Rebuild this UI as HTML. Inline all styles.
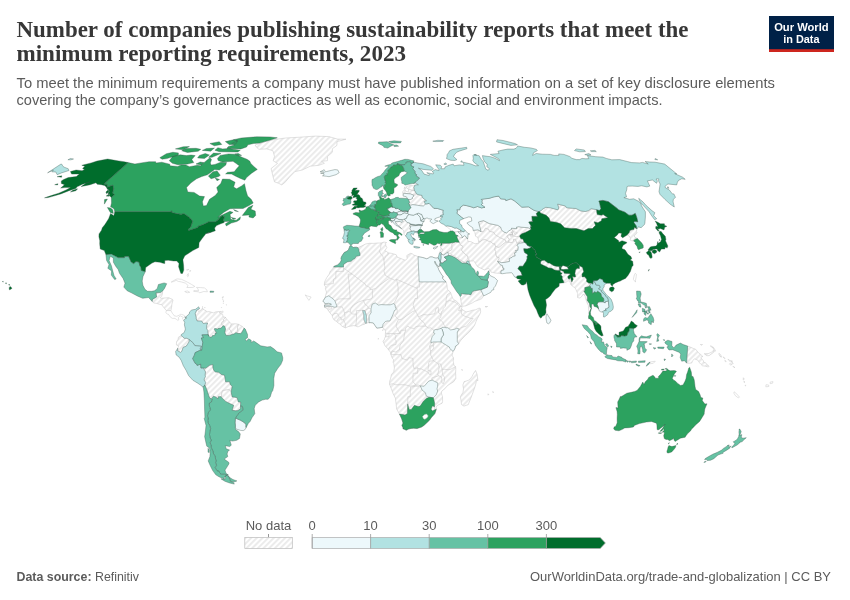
<!DOCTYPE html>
<html lang="en"><head><meta charset="utf-8"><title>Number of companies publishing sustainability reports that meet the minimum reporting requirements, 2023</title>
<style>
html,body{margin:0;padding:0;background:#fff}
body{width:850px;height:600px;overflow:hidden;font-family:"Liberation Sans",sans-serif}
svg{display:block}
.t{font-family:"Liberation Serif",serif;font-weight:700;font-size:23px;fill:#373737}
.s{font-family:"Liberation Sans",sans-serif;font-size:14.6px;fill:#5b5b5b}
.f{font-family:"Liberation Sans",sans-serif;font-size:13px;fill:#5b5b5b}
.l{font-family:"Liberation Sans",sans-serif;font-size:13px;fill:#5b5b5b}
.lg{font-family:"Liberation Sans",sans-serif;font-weight:700;font-size:11.2px;fill:#fff}
</style></head><body>
<svg width="850" height="600" viewBox="0 0 850 600">
<defs>
<pattern id="hatch" patternUnits="userSpaceOnUse" width="4" height="4" patternTransform="rotate(45)">
<rect width="4" height="4" fill="#fff"/><line x1="2" y1="-1" x2="2" y2="5" stroke="#d6d6d6" stroke-width="0.95"/>
</pattern>
</defs>
<rect width="850" height="600" fill="#fff"/>
<text class="t" x="16.5" y="36.5" textLength="672" lengthAdjust="spacingAndGlyphs">Number of companies publishing sustainability reports that meet the</text>
<text class="t" x="16.5" y="60.5" textLength="389.5" lengthAdjust="spacingAndGlyphs">minimum reporting requirements, 2023</text>
<text class="s" x="16.5" y="87.5" textLength="758.5" lengthAdjust="spacingAndGlyphs">To meet the minimum requirements a company must have published information on a set of key disclosure elements</text>
<text class="s" x="16.5" y="105.2" textLength="646" lengthAdjust="spacingAndGlyphs">covering the company’s governance practices as well as economic, social and environment impacts.</text>
<g>
<rect x="769" y="16" width="65" height="36" fill="#002147"/>
<rect x="769" y="49.2" width="65" height="2.8" fill="#ce261e"/>
<text class="lg" x="801.4" y="30.6" text-anchor="middle" textLength="54.5" lengthAdjust="spacingAndGlyphs">Our World</text>
<text class="lg" x="801.4" y="42.6" text-anchor="middle" textLength="36.4" lengthAdjust="spacingAndGlyphs">in Data</text>
</g>
<g id="map">
<g fill="url(#hatch)" stroke="#c4c4c4" stroke-width="0.5" stroke-linejoin="round">
<path d="M255.1,145.0L265.4,141.6L274.4,139.5L285.5,138.0L299.8,137.2L315.4,136.1L328.8,136.6L337.7,139.1L346.0,139.2L337.0,141.6L336.9,145.4L332.4,148.7L332.3,152.3L327.5,156.5L327.4,160.7L321.5,161.3L324.4,163.3L318.9,165.3L310.3,166.2L302.3,170.0L294.9,171.6L289.7,176.9L284.6,182.8L281.7,184.9L278.6,183.3L274.5,181.9L273.0,176.5L272.0,172.3L271.1,168.5L277.5,163.5L273.1,160.7L274.5,156.5L273.0,150.8L266.8,148.9L258.9,149.3L256.3,147.0Z"/>
<path d="M162.6,291.0L162.5,293.6L161.7,296.2L160.1,297.8L161.7,298.3L163.3,298.1L166.7,297.8L169.0,297.8L172.5,299.4L173.0,300.1L171.9,304.1L171.6,307.2L170.9,310.6L168.6,310.6L166.3,310.5L164.6,308.5L162.8,306.2L162.4,305.5L162.0,304.8L158.6,304.1L156.8,303.4L153.9,303.0L152.2,301.5L152.4,299.4L156.6,297.0L156.0,292.8L160.3,292.6L162.6,291.0Z"/>
<path d="M199.5,308.5L197.9,310.6L198.6,311.6L200.0,310.6L201.9,309.5L202.5,307.5L203.1,309.3L206.2,310.8L206.8,311.9L209.1,311.6L213.6,312.9L215.5,311.9L220.8,311.4L219.1,312.7L222.7,314.5L223.1,316.9L224.9,317.0L225.4,317.6L223.2,319.7L224.1,321.0L222.3,321.8L221.5,323.9L223.0,325.7L221.2,328.1L218.1,328.6L217.7,329.1L214.7,328.5L214.2,329.1L216.7,333.3L215.3,333.0L214.8,335.4L212.5,335.6L211.8,337.0L209.9,337.3L208.7,336.1L207.9,333.0L207.8,330.4L206.6,328.9L206.7,325.5L207.6,323.1L203.1,323.4L201.6,321.0L197.2,321.0L196.2,318.7L196.2,317.4L195.2,313.7L196.6,310.3Z"/>
<path d="M224.9,317.0L228.9,321.6L231.4,323.9L230.9,326.2L229.2,328.9L230.8,330.7L232.6,334.3L229.1,335.4L226.3,335.6L224.8,332.8L225.5,328.9L224.6,326.2L223.0,325.7L221.5,323.9L222.3,321.8L224.1,321.0L223.2,319.7L225.4,317.6Z"/>
<path d="M231.4,323.9L235.8,323.8L238.5,324.3L237.5,327.6L237.9,331.5L237.0,333.3L236.1,332.5L234.0,334.1L232.6,334.3L230.8,330.7L229.2,328.9L230.9,326.2Z"/>
<path d="M238.5,324.3L242.4,326.5L244.0,328.1L243.8,328.7L241.8,332.5L240.7,333.6L237.0,333.3L237.9,331.5L237.5,327.6Z"/>
<path d="M177.8,348.2L178.7,345.8L176.4,345.0L176.5,341.9L178.1,339.3L178.4,337.2L181.2,335.5L183.2,337.2L184.3,338.3L186.9,338.3L189.3,339.6L189.0,341.9L186.3,346.1L183.1,347.4L181.8,351.3L180.7,352.4L177.6,350.8Z"/>
<path d="M204.8,385.0L205.7,382.6L205.1,381.6L204.1,380.0L204.4,378.5L205.4,376.6L205.1,375.1L205.5,371.9L203.3,367.9L205.5,368.3L209.9,365.1L212.9,364.6L212.9,367.5L213.9,370.6L215.4,371.9L218.6,372.3L221.5,374.5L224.5,375.3L225.1,378.5L225.6,381.8L229.7,381.8L230.2,384.5L232.2,386.3L231.7,388.9L231.1,391.9L230.9,391.0L228.8,389.7L222.7,390.5L221.8,392.8L221.5,397.4L221.1,396.7L218.4,396.7L217.9,398.8L215.7,397.0L213.4,396.2L211.4,398.8L209.8,398.3L208.8,395.7L207.8,392.8L206.5,388.9Z"/>
<path d="M221.5,397.4L221.8,392.8L222.7,390.5L228.8,389.7L230.9,391.0L231.1,391.9L232.2,397.0L234.9,397.2L237.2,397.8L238.3,401.9L240.7,402.1L240.5,406.1L240.6,408.7L237.9,410.6L235.7,410.8L232.1,410.3L233.7,405.3L230.3,403.8L225.6,401.4Z"/>
<path d="M401.6,228.7L399.7,226.9L396.4,224.1L395.4,222.5L395.4,221.5L397.7,221.4L400.0,221.6L402.1,222.3L402.8,221.5L401.6,219.7L404.4,219.2L407.1,222.5L409.4,222.8L409.9,224.1L409.5,225.9L410.8,226.8L409.8,229.0L411.2,230.4L411.2,231.5L409.3,232.1L407.2,232.7L406.6,234.7L405.4,235.7L404.0,234.2L403.7,231.3L403.5,230.2Z"/>
<path d="M403.0,194.2L402.5,192.0L403.6,190.5L405.3,190.1L406.7,191.7L408.4,191.8L408.5,189.8L410.2,189.5L412.7,190.6L414.3,190.6L415.0,191.0L416.5,194.0L415.6,194.9L413.7,195.2L410.4,193.9L408.5,193.7L404.6,193.4Z"/>
<path d="M408.5,189.8L408.2,188.8L406.6,188.1L406.4,186.6L408.5,185.9L410.9,185.6L414.6,186.0L413.8,187.3L414.2,188.8L414.3,190.6L412.7,190.6L410.2,189.5ZM403.8,188.8L405.5,188.1L405.8,188.8L404.4,189.5ZM404.1,187.3L405.4,187.1L405.1,187.8Z"/>
<path d="M416.5,194.0L419.0,194.9L422.0,195.4L422.2,197.3L424.5,199.3L426.6,200.8L424.1,201.3L425.4,204.1L423.4,206.0L420.8,205.8L417.8,205.3L412.7,204.6L409.5,205.6L409.4,204.1L408.4,203.6L409.7,202.6L408.4,199.4L410.2,199.6L412.4,198.6L412.4,197.3L413.7,196.3L413.7,195.2L415.6,194.9Z"/>
<path d="M349.9,245.9L351.3,245.6L353.2,247.6L354.3,247.3L356.4,247.2L358.0,247.7L361.4,246.1L363.0,245.3L365.6,244.0L369.4,243.3L373.8,243.4L377.7,243.0L379.5,243.0L381.3,242.9L384.0,242.0L386.6,242.6L385.0,243.4L385.7,244.3L385.9,245.9L386.9,247.4L386.2,248.7L384.8,250.8L386.8,251.6L388.1,252.8L391.7,253.4L396.2,254.7L397.4,257.3L399.4,257.9L402.5,259.2L405.3,260.3L407.1,258.4L406.8,255.5L410.3,253.4L412.4,253.7L413.8,255.3L415.5,255.5L418.1,256.7L422.7,257.5L426.7,258.8L428.7,257.9L429.7,257.1L431.0,256.8L432.8,257.1L434.0,257.7L435.8,258.1L437.3,258.0L438.2,257.5L440.3,262.2L439.7,263.7L439.2,266.6L439.1,266.9L437.5,265.6L436.1,263.6L434.9,261.1L434.5,262.0L435.2,263.6L436.4,265.3L438.3,268.2L438.6,269.5L439.5,271.2L441.1,273.9L443.3,276.9L442.6,276.9L442.7,278.7L446.1,281.9L447.0,285.0L447.2,288.1L447.5,289.4L450.5,292.3L452.8,298.6L454.6,300.1L456.9,301.5L459.8,304.8L460.6,305.4L461.6,306.2L462.0,308.1L460.6,309.2L461.7,309.0L461.9,309.4L462.5,309.7L466.0,312.0L469.4,311.2L472.8,310.2L475.6,309.8L479.0,308.1L480.3,308.4L480.7,312.0L479.7,314.5L477.4,318.5L476.0,321.6L474.6,325.3L472.0,328.9L467.3,333.9L465.9,334.9L460.9,340.2L458.6,343.6L457.1,345.3L455.4,346.3L455.2,347.7L454.2,349.9L453.1,351.4L452.8,352.6L452.1,355.0L452.3,356.1L453.2,357.0L453.6,359.1L453.1,361.0L453.5,362.7L453.9,365.4L455.0,366.2L455.6,366.6L455.8,369.3L455.6,373.2L455.8,377.3L455.8,378.6L453.7,381.7L449.2,384.5L446.9,386.2L445.2,388.4L441.8,391.1L441.3,393.1L442.1,395.4L442.5,396.7L442.6,401.6L442.1,403.2L438.4,404.9L435.8,407.0L436.5,407.9L436.3,409.4L434.8,413.7L434.1,414.5L431.6,417.2L429.4,420.3L426.8,422.8L423.9,425.4L421.6,427.0L418.8,427.9L417.0,428.6L413.8,428.2L411.1,428.4L408.6,429.1L406.3,430.2L404.8,429.6L403.9,429.0L403.0,429.0L403.0,427.8L401.9,425.4L403.0,423.1L401.7,418.9L400.2,415.6L399.4,414.0L396.6,408.9L396.2,404.6L395.5,399.2L395.5,398.4L393.1,393.6L391.4,388.9L389.5,384.3L389.8,380.5L390.5,379.0L391.4,374.5L393.5,372.2L393.8,371.5L394.4,368.0L393.8,363.6L393.1,362.3L393.6,359.7L392.3,358.2L391.2,355.2L390.9,354.7L390.9,354.3L390.4,352.4L390.1,351.8L388.4,349.6L387.3,348.2L384.9,345.6L384.0,343.5L382.9,341.0L384.2,340.1L384.6,338.3L385.4,336.7L385.3,334.5L385.4,333.2L385.6,331.6L384.7,329.1L384.0,328.9L382.6,327.6L382.4,327.4L381.9,327.3L380.1,327.7L376.8,328.1L375.2,325.7L373.2,322.9L370.6,322.6L369.0,322.7L368.3,322.7L366.6,323.1L365.6,323.4L364.4,324.3L362.3,324.8L359.9,326.0L358.8,326.5L358.0,326.9L355.7,326.0L353.6,325.6L348.8,326.4L347.5,326.9L345.4,327.9L345.1,327.8L342.0,326.2L339.7,323.9L338.0,322.9L336.4,321.3L334.1,320.0L332.4,317.1L332.3,315.7L331.3,314.5L329.3,311.9L328.4,310.7L327.1,308.4L325.5,308.0L324.6,307.1L324.5,306.5L324.5,305.2L324.8,304.2L325.0,303.8L324.5,302.8L322.8,300.9L323.8,300.1L325.2,297.5L325.2,297.3L326.5,292.1L325.4,288.7L325.9,287.1L324.2,285.0L324.3,284.5L324.7,281.6L326.9,277.4L329.1,274.3L330.4,271.0L332.9,268.6L333.5,267.1L334.1,266.3L337.6,264.9L340.2,262.6L341.5,259.9L340.9,259.3L341.3,257.1L342.5,255.0L344.2,252.5L346.2,251.6L347.9,250.4L348.4,249.8L349.4,247.4Z"/>
<path d="M475.6,370.5L477.1,374.3L477.6,378.2L477.9,380.8L476.4,379.8L476.2,382.4L475.0,386.7L473.3,391.5L472.1,394.8L470.6,398.8L468.2,404.7L463.9,406.1L461.5,404.6L461.0,400.2L460.4,397.2L460.7,396.1L463.0,392.3L463.5,388.9L462.9,385.0L464.1,381.6L466.1,381.1L468.4,380.3L470.6,378.5L472.3,376.1L473.1,374.3L474.5,371.9Z"/>
<path d="M440.5,245.5L440.3,246.4L441.1,248.9L442.2,249.0L442.6,250.0L441.3,252.0L440.8,252.5L441.4,253.7L441.0,253.9L443.6,255.0L447.7,252.2L452.1,249.5L452.0,244.4L451.8,244.0L454.0,242.5L449.1,243.3L444.7,243.3L441.8,243.3L442.1,244.7L441.2,245.5Z"/>
<path d="M448.9,255.4L451.6,255.9L455.6,258.1L457.8,259.7L462.0,263.1L466.1,263.3L447.7,252.2L452.1,249.5L452.0,244.4L451.8,244.0L454.0,242.5L455.3,242.0L459.3,242.3L460.8,245.3L462.4,245.7L463.1,247.4L461.8,249.1L461.9,250.6L463.7,252.9L468.0,256.3L468.0,258.4L470.3,261.1L469.1,261.1L467.1,261.0L466.1,263.3Z"/>
<path d="M483.7,295.8L481.9,298.6L479.2,299.8L474.9,301.3L472.5,302.8L465.8,305.9L462.2,306.3L461.6,304.6L460.9,300.7L460.2,296.5L461.2,295.7L461.3,293.6L463.3,293.9L468.6,294.3L470.9,294.7L472.3,291.8L474.3,290.8L480.8,289.7ZM485.0,306.5L487.6,306.5L486.0,307.2Z"/>
<path d="M470.3,261.1L472.6,261.0L473.6,260.6L475.7,263.7L477.5,266.6L480.1,267.9L484.6,270.0L488.3,268.4L490.1,269.6L491.1,272.2L492.3,272.3L495.0,273.0L498.7,273.3L500.9,273.5L501.0,270.9L504.0,269.7L504.0,268.3L502.8,268.0L502.5,265.6L500.4,264.8L497.6,261.4L499.2,258.8L499.0,257.3L496.8,257.1L495.5,252.9L496.0,251.7L494.8,249.8L495.5,246.3L494.8,243.7L493.0,243.7L490.3,241.4L488.2,241.0L485.3,239.5L481.8,239.9L480.6,241.6L478.7,241.8L479.0,243.0L475.0,243.8L471.0,241.7L468.1,241.4L467.5,239.0L465.8,236.5L464.5,235.7L462.1,237.8L459.9,237.5L458.2,235.8L456.7,236.5L457.6,239.1L459.3,242.3L460.8,245.3L462.4,245.7L463.1,247.4L461.8,249.1L461.9,250.6L463.7,252.9L468.0,256.3L468.0,258.4Z"/>
<path d="M495.5,246.3L494.8,249.8L496.0,251.7L495.5,252.9L496.8,257.1L499.0,257.3L499.2,258.8L497.6,261.4L501.4,262.6L504.9,262.4L509.5,261.4L509.2,258.6L512.1,257.3L512.8,256.3L515.2,256.0L514.5,252.9L516.5,252.1L515.5,250.6L517.9,250.3L518.3,246.9L516.9,245.2L519.2,243.3L523.5,242.7L524.0,242.1L520.4,241.6L517.0,243.4L515.5,239.4L513.3,239.1L513.6,241.2L512.0,242.5L508.7,242.2L505.9,241.8L502.2,244.6L498.9,247.3Z"/>
<path d="M478.7,241.8L477.9,237.5L475.5,236.2L475.4,234.9L474.8,232.4L473.2,230.4L478.0,229.8L481.0,231.6L483.3,231.6L485.5,228.0L488.8,229.3L489.5,231.3L493.6,232.1L495.4,234.9L500.3,237.7L505.6,240.1L505.9,241.8L502.2,244.6L498.9,247.3L495.5,246.3L494.8,243.7L493.0,243.7L490.3,241.4L488.2,241.0L485.3,239.5L481.8,239.9L480.6,241.6Z"/>
<path d="M481.0,231.6L478.5,222.0L483.5,220.6L489.3,223.6L497.9,225.4L500.7,227.2L501.5,229.8L503.7,232.0L506.7,232.9L508.3,231.3L511.7,229.1L515.0,234.4L516.1,233.9L517.5,232.9L513.9,231.6L511.6,232.4L512.3,232.6L512.6,234.9L509.9,234.4L506.9,236.0L509.4,239.6L508.9,240.1L508.7,242.2L505.9,241.8L505.6,240.1L500.3,237.7L495.4,234.9L493.6,232.1L489.5,231.3L488.8,229.3L485.5,228.0L483.3,231.6Z"/>
<path d="M511.7,229.1L511.5,228.2L516.9,228.7L516.4,227.2L518.8,226.7L521.0,227.2L528.1,227.7L531.2,229.3L528.2,231.1L525.3,232.4L521.8,233.8L519.8,235.5L519.7,236.4L516.3,236.6L513.1,236.0L510.4,236.2L509.9,234.4L512.6,234.9L512.3,232.6L511.6,232.4L513.9,231.6L517.5,232.9L516.1,233.9L515.0,234.4Z"/>
<path d="M508.7,242.2L508.9,240.1L509.4,239.6L506.9,236.0L509.9,234.4L512.6,234.9L512.3,232.6L511.6,232.4L512.3,232.6L512.6,234.9L509.9,234.4L510.4,236.2L513.1,236.0L516.3,236.6L519.7,236.4L520.9,238.8L522.9,239.1L524.0,242.1L520.4,241.6L517.0,243.4L515.5,239.4L513.3,239.1L513.6,241.2L512.0,242.5Z"/>
<path d="M542.1,260.5L540.6,261.8L540.7,264.1L543.4,265.3L547.0,267.0L548.5,267.9L551.7,268.3L554.5,269.9L557.5,270.4L559.8,270.4L559.1,266.5L556.2,266.3L553.9,265.7L551.9,264.6L549.4,263.0L548.0,263.1L544.4,260.2Z"/>
<path d="M563.9,282.8L566.6,282.1L567.5,280.8L569.8,281.1L570.7,284.0L571.6,285.3L571.2,284.2L571.8,281.9L570.4,277.4L569.1,279.4L568.0,278.0L567.8,276.4L570.3,274.3L570.1,273.8L564.2,273.3L563.7,271.4L560.3,270.0L560.1,272.0L562.2,273.5L560.4,275.0L562.2,276.1L562.2,278.7L563.7,281.5Z"/>
<path d="M539.5,211.4L541.3,210.6L542.2,209.4L545.8,207.3L550.7,207.9L557.9,209.9L558.8,208.0L557.6,204.1L565.3,206.0L566.6,207.8L572.3,208.3L575.9,208.5L580.9,211.0L585.6,211.5L588.7,210.6L591.1,208.7L596.6,209.7L596.8,212.4L597.3,214.6L601.4,215.3L603.1,214.5L607.9,217.7L601.8,218.7L601.4,220.8L597.9,222.7L594.1,221.8L595.5,225.3L592.4,228.6L588.2,228.6L584.0,230.8L576.2,228.5L571.3,228.4L564.6,227.8L560.7,223.8L556.1,222.2L550.4,221.5L549.0,218.0L546.2,215.2L540.5,212.9Z"/>
<path d="M627.1,235.1L629.2,236.0L630.5,238.3L630.0,239.9L631.9,240.9L633.5,240.8L635.0,239.4L637.4,238.6L634.7,237.1L634.2,235.5L635.0,235.2L637.1,232.7L636.3,231.3L637.0,229.0L636.6,228.7L634.4,227.3L633.8,229.5L631.9,229.8L629.9,230.4L629.2,232.6Z"/>
<path d="M589.0,313.3L588.5,308.5L588.4,305.4L587.0,302.8L585.7,298.8L585.1,296.2L583.2,294.1L582.1,296.0L580.1,298.1L577.5,297.5L577.7,293.6L576.0,289.7L574.9,287.6L573.2,286.7L571.6,285.3L571.2,284.2L571.8,281.9L573.2,279.3L572.5,276.5L574.4,277.0L575.7,276.7L574.9,273.5L575.5,269.9L577.2,268.2L579.4,268.6L579.3,265.6L582.6,267.5L583.7,271.7L582.0,274.0L582.2,276.9L584.7,276.7L586.7,279.3L586.6,281.6L588.9,283.2L591.2,282.9L589.4,286.2L588.1,286.8L584.8,287.6L584.8,291.0L583.8,290.9L587.4,296.8L587.5,299.2L586.9,299.9L589.5,303.5L589.9,306.4L591.1,308.5L589.4,312.0Z"/>
<path d="M687.7,346.1L688.4,346.3L693.7,348.6L695.7,349.3L698.5,352.9L700.9,354.7L702.9,356.5L700.9,356.9L701.5,358.9L703.2,360.3L703.9,362.5L705.7,362.8L706.9,364.6L709.1,366.1L708.4,367.0L705.8,366.2L702.5,365.8L700.7,364.1L699.3,362.5L697.8,360.1L695.0,359.1L694.3,359.0L692.6,360.7L692.3,361.1L692.0,362.7L691.7,362.9L689.1,363.3L686.6,363.1ZM704.2,353.7L708.1,353.7L711.7,352.2L713.4,350.3L713.8,352.1L711.5,353.9L709.1,355.6L706.8,355.7ZM710.3,346.1L713.0,347.9L714.9,351.6L715.4,350.5L713.5,347.4L710.8,345.8ZM718.9,353.4L720.7,354.7L721.5,357.2L720.1,356.5L719.1,354.7ZM700.4,344.5L702.5,344.5L701.6,345.3Z"/>
</g>
<g fill="#fff" stroke="#c9c9c9" stroke-width="0.5" stroke-linejoin="round">
<path d="M170.9,310.6L172.3,313.2L173.2,314.2L174.2,315.8L176.7,316.3L179.1,315.3L180.3,314.4L181.4,314.4L183.7,315.0L185.0,316.6L185.4,318.7L183.7,320.5L182.6,318.4L183.3,317.4L180.2,315.8L178.3,317.6L178.9,319.7L177.9,320.4L176.6,319.5L175.0,318.4L172.3,318.3L170.5,317.2L168.3,314.2L167.4,314.2L165.9,312.7L166.3,310.5L168.6,310.6Z"/>
<path d="M221.9,297.5L223.4,296.5L223.1,297.8ZM223.1,300.7L224.0,300.9L223.4,301.7ZM223.2,302.8L223.6,303.0L223.3,303.5ZM222.5,298.8L223.1,299.1L222.8,299.6ZM226.4,304.6L226.8,305.0L226.4,305.2ZM221.3,307.5L221.7,307.6L221.5,308.0ZM204.8,307.2L205.2,307.7L204.5,307.7ZM202.5,306.4L202.8,306.8L202.5,306.9Z"/>
<path d="M171.2,282.1L175.9,279.3L177.3,278.9L181.5,279.3L184.7,280.8L187.9,282.4L191.7,284.5L194.8,286.4L192.9,287.4L186.8,287.5L188.1,285.5L185.5,283.2L181.2,281.9L178.3,281.4L176.2,280.3L173.5,281.6Z"/>
<path d="M193.7,291.4L198.3,291.8L199.8,292.8L203.8,291.5L207.4,291.8L206.7,289.7L204.4,287.9L200.4,287.6L196.5,287.4L198.0,288.9L198.5,290.8L193.8,290.6Z"/>
<path d="M184.7,291.5L187.5,291.0L189.7,292.3L187.1,292.8Z"/>
<path d="M187.0,275.1L188.3,273.5L188.4,276.1L187.7,276.7ZM186.5,269.9L188.9,269.3L187.6,270.1ZM190.1,270.1L190.6,270.7L190.0,271.7Z"/>
<path d="M220.7,312.9L221.5,311.4L223.1,311.1L222.8,312.9Z"/>
<path d="M492.6,391.5L493.7,392.0L493.1,392.8ZM487.8,393.9L488.9,394.4L488.2,395.2ZM461.8,369.1L462.4,370.4L462.0,370.6ZM307.5,296.0L311.1,297.0L308.9,300.4L305.2,294.9ZM377.8,339.0L378.5,338.3L378.3,339.3ZM382.6,330.7L383.4,329.6L382.8,329.5Z"/>
<path d="M446.2,226.2L448.6,228.0L450.4,229.8L450.4,231.1L452.6,230.9L454.6,232.1L457.8,231.7L459.9,231.8L461.3,232.2L460.4,230.0L457.5,228.5L456.8,228.0L454.8,228.2L451.5,226.7L447.6,225.9Z"/>
<path d="M457.8,231.7L454.6,232.1L455.5,234.7L458.2,235.8L459.9,237.5L462.1,237.8L462.0,236.2L460.5,234.4L459.3,232.9Z"/>
<path d="M439.6,252.9L440.3,250.8L441.1,248.9L442.2,249.0L442.6,250.0L441.3,252.0L440.8,252.5Z"/>
<path d="M561.0,268.0L561.1,267.3L563.0,265.4L565.3,266.2L566.9,266.7L567.8,267.5L568.4,269.2L566.0,269.3L563.4,269.6L561.1,269.3Z"/>
<path d="M635.3,273.3L636.4,274.3L636.2,276.7L635.5,280.3L635.5,282.1L633.3,279.3L634.3,275.1Z"/>
<path d="M650.0,362.0L655.3,361.2L653.3,363.3L649.6,363.8Z"/>
<path d="M734.2,391.8L736.9,394.1L739.5,397.2L738.2,397.8L735.4,395.7L733.8,393.1ZM766.0,384.7L768.7,385.0L768.8,386.5L765.8,386.8ZM770.1,382.1L773.0,381.6L772.6,383.2L770.2,383.7ZM729.4,360.2L732.3,361.0L730.4,362.0L727.9,359.1ZM729.8,363.6L732.0,364.4L730.8,365.1L729.3,364.1ZM731.8,361.2L733.2,363.8L732.5,364.1L731.7,362.3ZM732.9,366.2L735.0,367.5L733.9,367.5ZM723.0,356.8L725.2,358.4L724.5,358.6ZM724.8,360.2L726.3,361.5L725.3,361.7ZM743.3,377.7L744.3,379.2L743.2,380.0ZM743.9,381.1L745.0,382.1L744.2,382.6ZM745.2,385.2L746.1,385.5L745.3,386.0ZM-32.3,374.5L-30.9,374.8L-31.5,375.3ZM-30.2,375.3L-28.9,375.8L-29.8,376.1Z"/>
</g>
<g fill="#edf8fb" stroke="#38524a" stroke-opacity="0.7" stroke-width="0.5" stroke-linejoin="round">
<path d="M246.2,427.4L245.2,429.4L243.3,430.6L240.6,430.4L236.8,429.2L235.3,427.8L235.4,425.4L235.1,422.8L235.4,418.1L239.2,419.7L240.1,420.0L242.6,421.5L245.0,423.1L246.0,424.7L245.9,427.3Z"/>
<path d="M320.1,171.8L324.2,169.7L325.3,171.8L326.4,171.6L331.3,170.4L334.9,169.6L337.7,169.9L339.2,172.7L336.0,174.7L329.0,176.7L326.7,176.3L322.5,175.8L324.1,174.9L323.5,173.4L320.6,173.3L324.3,172.8L323.6,171.8Z"/>
<path d="M392.2,207.2L394.2,207.4L395.3,207.7L395.1,208.3L396.2,209.0L396.7,208.3L398.1,208.5L398.8,209.3L400.0,209.5L400.6,210.6L399.2,211.6L397.5,212.2L397.0,212.9L395.1,212.5L393.0,211.8L392.5,212.9L390.7,212.4L387.7,210.1L387.8,209.5L387.0,208.5L388.7,208.2L391.2,206.8Z"/>
<path d="M400.6,210.6L401.9,210.3L402.6,211.3L403.8,210.8L406.2,210.7L408.2,211.6L399.2,211.6L397.5,212.2L397.0,212.9L397.6,214.4L398.9,215.0L401.0,214.9L402.5,213.9L404.2,213.0L406.9,213.5L407.6,213.4L408.2,211.6Z"/>
<path d="M397.6,214.4L398.9,215.0L401.0,214.9L402.5,213.9L404.2,213.0L406.9,213.5L407.6,213.4L409.2,214.5L407.5,215.7L406.4,218.5L404.4,219.2L401.6,219.7L399.0,219.7L396.8,218.3L395.7,217.3L396.4,215.9L397.5,215.2Z"/>
<path d="M390.8,218.2L392.7,218.5L394.8,217.7L395.7,217.3L396.8,218.3L394.8,219.0L394.3,220.8L392.7,220.8L390.8,220.9L391.2,220.5L390.8,220.0L390.3,219.0Z"/>
<path d="M390.8,220.9L391.6,222.5L392.3,221.3L393.9,223.3L395.9,225.4L397.2,225.9L399.6,227.4L401.6,228.7L399.7,226.9L396.4,224.1L395.4,222.5L395.4,221.5L397.7,221.4L400.0,221.6L402.1,222.3L402.8,221.5L401.6,219.7L399.0,219.7L396.8,218.3L394.8,219.0L394.3,220.8L392.7,220.8Z"/>
<path d="M409.2,214.5L413.4,215.2L416.6,213.8L418.0,214.9L420.2,217.2L420.9,220.9L424.1,221.5L422.6,222.8L422.3,225.3L418.9,224.4L415.7,225.5L409.9,224.1L409.4,222.8L407.1,222.5L404.4,219.2L406.4,218.5L407.5,215.7Z"/>
<path d="M416.6,213.8L418.4,213.2L421.8,214.5L423.4,218.5L424.5,218.5L422.4,219.5L420.9,220.9L420.2,217.2L418.0,214.9Z"/>
<path d="M409.9,224.1L415.7,225.5L418.9,224.4L422.3,225.3L409.5,225.9L410.8,226.8L409.8,229.0L411.2,230.4L411.2,231.5L413.4,231.1L415.5,231.5L417.9,231.5L418.3,230.5L419.5,229.5L421.6,229.8L420.4,228.5L421.0,226.7L422.3,225.3Z"/>
<path d="M403.2,196.1L403.0,194.2L404.6,193.4L408.5,193.7L410.4,193.9L413.7,195.2L413.7,196.3L412.4,197.3L412.4,198.6L410.2,199.6L408.4,199.4L406.9,198.4L406.7,197.1L406.3,196.7L403.7,196.2Z"/>
<path d="M425.4,204.1L429.2,203.4L430.8,205.1L433.8,208.3L437.7,208.5L440.7,209.5L443.4,210.3L443.0,212.1L443.4,214.8L440.7,215.5L440.7,216.7L437.6,217.6L434.9,218.7L434.8,220.2L438.2,221.0L436.0,222.0L433.5,223.6L432.0,223.1L429.8,221.1L431.8,219.2L428.4,218.7L427.2,218.0L425.7,218.2L423.8,221.0L424.1,221.5L420.9,220.9L422.4,219.5L424.5,218.5L423.4,218.5L421.8,214.5L418.4,213.2L416.6,213.8L413.4,215.2L409.2,214.5L407.6,213.4L408.2,211.6L408.3,210.3L410.7,208.0L410.7,207.2L409.5,205.6L412.7,204.6L417.8,205.3L420.8,205.8L423.4,206.0Z"/>
<path d="M418.1,256.7L422.7,257.5L426.7,258.8L428.7,257.9L429.7,257.1L431.0,256.8L432.8,257.1L434.0,257.7L435.8,258.1L437.3,258.0L438.2,257.5L440.3,262.2L439.7,263.7L439.2,266.6L439.1,266.9L437.5,265.6L436.1,263.6L434.9,261.1L434.5,262.0L435.2,263.6L436.4,265.3L438.3,268.2L438.6,269.5L439.5,271.2L441.1,273.9L443.3,276.9L442.6,276.9L442.7,278.7L446.1,281.9L419.2,281.9L418.3,263.0Z"/>
<path d="M324.6,307.1L324.5,306.5L324.5,305.2L328.5,305.0L331.2,304.6L331.2,303.9L328.5,303.3L325.0,303.8L324.5,302.8L322.8,300.9L323.8,300.1L325.2,297.5L325.2,297.3L328.8,295.8L332.6,298.5L334.9,300.8L336.7,305.5L336.8,306.9L334.5,307.2L331.4,306.3L328.0,306.3Z"/>
<path d="M382.4,327.4L381.9,327.3L380.1,327.7L376.8,328.1L375.2,325.7L373.2,322.9L370.6,322.6L369.0,322.7L369.1,318.9L369.0,315.8L371.1,312.7L371.0,308.8L372.2,304.1L375.4,303.0L378.4,305.1L381.1,304.6L385.7,304.8L390.2,304.8L393.9,303.5L395.1,305.1L395.3,306.9L396.3,309.3L394.4,310.6L393.1,314.2L392.1,316.5L389.9,321.0L387.2,321.0L385.3,321.6L383.1,324.2Z"/>
<path d="M458.6,343.6L457.1,345.3L455.4,346.3L455.2,347.7L454.2,349.9L453.1,351.4L449.7,348.4L449.4,347.1L441.0,341.9L441.0,339.0L441.2,338.5L442.4,336.4L443.5,334.9L443.2,332.8L442.2,329.6L441.1,328.3L442.0,327.3L445.6,327.3L445.7,327.7L447.8,327.7L450.6,329.9L454.6,329.3L456.8,328.2L459.3,329.0L457.3,332.0L457.3,341.5Z"/>
<path d="M441.1,328.3L442.2,329.6L443.2,332.8L443.5,334.9L442.4,336.4L441.2,338.5L441.0,339.0L441.0,341.9L433.0,342.0L431.0,343.0L431.0,340.6L431.7,338.0L432.4,336.2L434.9,333.7L433.7,332.9L433.9,330.2L436.1,329.4L437.0,329.9L438.8,329.1Z"/>
<path d="M420.2,385.8L421.5,386.0L424.2,386.2L428.7,381.1L432.2,380.1L434.1,381.1L437.8,382.9L437.6,386.3L437.0,388.9L437.7,391.0L436.2,394.9L433.4,397.8L429.0,397.2L426.0,395.7L425.5,392.8L422.2,390.2Z"/>
<path d="M460.4,230.0L462.6,231.6L463.9,231.8L465.0,230.2L467.6,233.1L469.7,234.0L467.9,234.4L467.9,236.8L467.5,239.0L465.8,236.5L464.5,235.7L462.1,237.8L462.0,236.2L460.5,234.4L459.3,232.9L457.8,231.7L459.9,231.8L461.3,232.2Z"/>
<path d="M433.0,248.2L434.3,247.4L437.8,246.3L436.7,247.9L434.6,249.0Z"/>
<path d="M441.0,253.9L443.6,255.0L447.7,252.2L448.9,255.4L444.3,257.1L446.7,259.7L445.8,261.0L444.2,261.4L442.9,263.1L440.3,262.7L440.3,262.2L440.9,258.6L441.0,257.1L440.8,254.7Z"/>
<path d="M489.3,274.2L490.3,275.7L494.6,277.7L497.6,280.6L495.4,286.1L493.6,288.0L493.9,289.7L492.1,290.0L490.7,292.4L488.3,293.6L485.9,294.9L483.7,295.8L480.8,289.7L487.4,287.1L488.4,281.9L487.2,280.0L488.7,276.7L488.2,276.1ZM488.3,271.3L489.0,270.5L489.0,272.5Z"/>
<path d="M463.6,218.6L462.0,217.7L458.8,214.9L456.8,213.4L457.4,211.3L456.8,209.7L459.8,209.8L460.0,207.8L463.2,205.1L466.5,205.6L471.0,206.8L473.8,207.8L477.5,206.5L481.4,207.9L484.9,207.3L481.2,204.6L482.7,203.3L481.8,202.1L482.1,200.3L481.2,199.4L484.9,198.8L489.0,198.4L494.1,196.8L498.8,196.1L500.6,198.8L505.4,199.3L505.8,200.6L511.0,198.8L514.8,201.1L521.9,207.2L528.4,206.8L534.0,210.3L538.6,211.6L536.3,213.4L537.4,216.4L531.9,216.4L532.3,220.8L533.3,221.5L528.8,222.0L531.5,226.7L530.4,226.7L531.2,229.3L528.1,227.7L521.0,227.2L518.8,226.7L516.4,227.2L516.9,228.7L511.5,228.2L511.7,229.1L508.3,231.3L506.7,232.9L503.7,232.0L501.5,229.8L500.7,227.2L497.9,225.4L489.3,223.6L483.5,220.6L478.5,222.0L481.0,231.6L478.0,229.8L473.2,230.4L472.7,227.7L469.4,225.5L466.9,223.1L468.8,222.0L471.8,221.0L471.4,217.7L471.0,217.2L468.7,216.9Z"/>
<path d="M500.9,273.5L502.5,273.7L506.5,273.1L511.6,272.7L512.1,273.0L513.2,274.6L514.6,276.9L516.2,277.4L517.4,275.9L522.3,275.6L521.1,272.2L519.4,269.9L517.9,268.8L519.5,266.2L522.9,266.3L524.6,263.6L526.4,261.0L527.3,258.1L526.9,256.8L528.1,255.0L526.5,253.7L524.7,252.6L524.0,250.6L523.8,248.7L527.2,249.0L530.2,247.9L531.5,246.6L529.3,246.3L527.3,245.3L526.3,243.4L524.0,242.1L523.5,242.7L519.2,243.3L516.9,245.2L518.3,246.9L517.9,250.3L515.5,250.6L516.5,252.1L514.5,252.9L515.2,256.0L512.8,256.3L512.1,257.3L509.2,258.6L509.5,261.4L504.9,262.4L501.4,262.6L497.6,261.4L500.4,264.8L502.5,265.6L502.8,268.0L504.0,268.3L504.0,269.7L501.0,270.9Z"/>
<path d="M546.9,313.7L551.0,320.2L549.6,323.1L548.3,323.8L546.9,322.9L546.5,321.3L546.0,317.9L546.2,315.8Z"/>
<path d="M598.6,308.9L599.2,310.8L600.2,311.6L602.4,312.1L603.8,310.7L605.4,310.6L606.3,310.6L605.3,309.0L606.7,308.8L609.1,307.2L608.6,304.1L608.4,300.9L606.1,301.6L605.0,301.8L605.1,302.9L603.1,301.8L600.4,301.8L598.1,302.1L597.3,303.8L596.8,303.9L597.9,306.3Z"/>
</g>
<g fill="#b2e2e2" stroke="#38524a" stroke-opacity="0.7" stroke-width="0.5" stroke-linejoin="round">
<path d="M185.0,316.6L186.3,318.4L186.4,316.3L189.2,314.0L189.6,311.9L191.3,310.3L192.7,309.8L195.5,309.3L198.7,306.8L199.5,308.5L196.6,310.3L195.2,313.7L196.2,317.4L196.2,318.7L197.2,321.0L201.6,321.0L203.1,323.4L207.6,323.1L206.7,325.5L206.6,328.9L207.8,330.4L207.9,333.0L208.7,336.1L208.1,334.7L201.9,334.9L203.5,337.6L201.3,338.0L202.8,342.2L201.7,350.3L199.9,349.2L201.3,346.3L194.8,345.6L192.9,342.7L189.3,339.6L186.9,338.3L184.3,338.3L183.2,337.2L181.2,335.5L181.2,334.6L184.2,332.5L185.4,329.1L184.4,324.9L184.7,322.3L183.7,320.5L185.4,318.7Z"/>
<path d="M203.2,387.2L200.4,385.0L197.3,382.9L192.9,380.3L188.6,375.6L186.2,370.6L183.3,365.7L181.2,360.4L179.0,357.0L176.2,355.0L175.6,351.6L177.8,348.2L177.6,350.8L180.7,352.4L181.8,351.3L183.1,347.4L186.3,346.1L189.0,341.9L189.3,339.6L192.9,342.7L194.8,345.6L201.3,346.3L199.9,349.2L201.7,350.3L199.7,350.5L195.2,352.6L194.4,355.2L192.7,358.6L195.2,363.3L196.8,364.1L197.1,365.4L200.7,364.1L200.9,368.0L203.3,367.9L205.5,371.9L205.1,375.1L205.4,376.6L204.4,378.5L204.1,380.0L205.1,381.6L205.7,382.6L204.8,385.0Z"/>
<path d="M344.1,230.0L344.4,232.6L343.6,236.0L342.5,238.1L343.1,239.1L344.0,239.1L343.9,240.4L343.4,242.7L345.8,242.7L346.9,242.2L346.7,241.4L347.8,239.6L347.2,239.1L347.9,237.5L346.8,235.8L347.9,235.7L348.2,232.4L349.7,230.8L348.9,229.9L345.8,230.3L345.6,229.5Z"/>
<path d="M417.9,233.0L415.7,232.6L414.4,232.6L413.7,234.2L413.4,235.1L412.5,234.3L411.3,233.6L410.8,234.9L411.8,236.8L412.6,237.8L414.3,239.6L414.5,241.0L413.2,240.1L412.1,240.4L413.3,241.7L412.9,244.2L411.4,244.3L409.6,243.3L408.1,240.7L409.3,239.4L408.0,239.4L407.0,237.8L405.8,236.0L405.4,235.7L406.6,234.7L407.2,232.7L409.3,232.1L411.2,231.5L413.4,231.1L415.5,231.5L417.9,231.5L418.3,230.5ZM413.9,246.4L415.3,246.4L418.6,247.0L419.9,247.3L419.5,247.9L416.5,248.1L413.8,247.3ZM412.8,237.8L414.6,238.6L415.6,240.1L413.1,238.6ZM422.9,244.6L423.7,244.3L423.4,245.6ZM418.3,237.0L419.6,237.3L419.0,237.7Z"/>
<path d=""/>
<path d="M365.6,323.4L366.6,323.1L366.5,315.8L364.9,310.6L362.5,310.3L363.7,314.5L363.9,319.7Z"/>
<path d="M414.0,162.2L417.8,163.0L423.1,163.8L430.7,166.4L433.5,168.7L432.0,170.3L423.1,169.4L418.4,168.2L421.6,170.3L424.1,174.1L429.2,175.5L429.8,174.6L426.8,172.7L430.4,173.4L433.2,173.9L433.8,172.9L432.1,171.6L435.2,169.6L439.0,170.5L438.8,169.1L437.6,167.8L435.7,164.8L440.2,165.2L441.8,166.7L440.9,168.7L444.6,168.7L445.0,167.0L448.9,165.3L453.2,164.1L454.1,165.8L459.3,164.9L463.9,165.3L463.4,162.2L470.9,164.0L475.3,165.8L478.5,165.6L474.5,162.9L472.8,160.7L473.3,158.6L472.9,155.6L473.8,154.6L479.2,155.8L481.1,159.2L483.3,161.7L484.8,166.2L485.8,169.1L488.2,170.3L489.4,168.7L486.8,166.7L487.1,164.4L484.6,161.7L483.1,158.6L482.4,155.6L487.0,156.3L490.5,156.7L495.0,158.2L499.5,160.7L498.9,159.0L494.4,156.5L490.3,154.4L499.1,153.5L497.9,151.2L502.8,150.0L507.8,149.1L513.9,149.1L516.0,148.3L517.9,146.0L524.5,147.3L530.6,147.9L536.3,149.3L537.4,150.6L533.6,152.7L532.6,155.4L536.1,153.5L542.3,154.2L550.5,154.4L554.1,155.4L558.9,155.4L558.7,153.9L563.9,154.4L569.8,156.5L571.9,158.3L576.3,159.6L579.6,159.6L582.0,158.4L585.8,158.8L588.8,158.6L587.4,155.6L595.8,156.7L602.8,157.1L606.3,158.4L611.8,159.8L619.7,159.6L627.3,161.5L631.6,162.6L639.5,162.9L642.6,162.4L648.2,164.0L645.1,161.5L649.8,162.0L655.1,162.2L659.8,163.1L664.7,164.1L676.8,173.9L674.7,173.6L682.7,177.2L685.2,179.3L681.7,178.8L678.5,180.4L677.4,182.3L676.7,184.9L668.0,184.0L666.7,184.7L665.2,186.5L665.3,187.6L669.4,190.0L672.4,193.9L673.9,193.9L675.5,197.4L673.3,199.3L673.1,201.8L674.3,207.0L670.3,204.3L664.8,199.3L660.0,194.4L659.0,191.7L659.7,186.9L660.1,184.0L658.6,181.1L658.7,178.8L656.0,179.0L657.4,180.9L656.6,183.3L652.4,180.0L647.4,180.9L649.8,186.1L646.9,186.9L641.6,185.8L638.0,186.4L632.2,186.1L628.1,186.2L627.1,186.6L626.7,190.0L625.5,193.3L626.6,196.8L623.9,197.6L629.6,199.3L633.7,198.8L638.5,201.3L641.1,203.8L641.4,205.6L642.9,208.0L645.4,211.8L645.4,216.9L644.9,223.1L644.4,224.6L641.1,227.7L638.5,226.9L638.3,226.9L637.0,229.0L636.6,228.7L636.2,225.9L633.8,222.5L634.7,221.3L637.7,221.8L636.9,218.0L635.3,213.4L632.0,215.2L628.9,215.2L624.9,212.2L618.3,209.8L617.5,208.7L608.4,201.7L602.9,200.4L598.9,201.1L599.6,202.8L600.2,205.6L601.0,208.8L599.3,210.6L596.6,209.7L591.1,208.7L588.7,210.6L585.6,211.5L580.9,211.0L575.9,208.5L572.3,208.3L566.6,207.8L565.3,206.0L557.6,204.1L558.8,208.0L557.9,209.9L550.7,207.9L545.8,207.3L542.2,209.4L541.3,210.6L539.5,211.4L538.6,211.6L534.0,210.3L528.4,206.8L521.9,207.2L514.8,201.1L511.0,198.8L505.8,200.6L505.4,199.3L500.6,198.8L498.8,196.1L494.1,196.8L489.0,198.4L484.9,198.8L481.2,199.4L482.1,200.3L481.8,202.1L482.7,203.3L481.2,204.6L484.9,207.3L481.4,207.9L477.5,206.5L473.8,207.8L471.0,206.8L466.5,205.6L463.2,205.1L460.0,207.8L459.8,209.8L456.8,209.7L457.4,211.3L456.8,213.4L458.8,214.9L462.0,217.7L463.6,218.6L461.4,219.7L459.6,220.5L459.6,223.6L461.6,225.1L462.1,227.2L465.0,230.2L463.9,231.8L462.6,231.6L460.4,230.0L457.5,228.5L456.8,228.0L454.8,228.2L451.5,226.7L447.6,225.9L446.2,226.2L445.5,225.9L443.8,224.4L442.0,223.7L439.9,222.3L438.9,221.1L440.4,220.2L441.0,219.5L440.6,218.5L442.9,216.7L440.7,216.7L440.7,215.5L443.4,214.8L443.0,212.1L443.4,210.3L440.7,209.5L437.7,208.5L433.8,208.3L430.8,205.1L429.2,203.4L425.4,204.1L424.1,201.3L426.6,200.8L424.5,199.3L422.2,197.3L422.0,195.4L419.0,194.9L416.5,194.0L415.0,191.0L414.3,190.6L414.2,188.8L413.8,187.3L414.6,186.0L414.5,185.3L416.2,184.8L418.4,184.8L415.3,183.0L413.7,183.4L416.1,181.6L418.9,178.8L419.3,177.9L416.0,175.9L416.6,174.6L414.9,173.4L415.0,171.4L412.7,168.7L413.8,166.9L411.0,165.8L411.0,164.2L411.3,163.9ZM60.9,164.1L61.8,164.2L63.0,166.4L64.5,167.3L68.2,168.7L69.0,170.5L61.5,172.9L57.2,174.7L55.8,172.0L51.8,171.8L53.5,170.0L47.6,172.8ZM654.9,159.6L655.2,158.5L657.7,159.8ZM70.4,158.5L73.5,159.0L70.9,159.8L67.9,159.8ZM446.5,158.6L447.0,156.5L447.0,154.8L448.8,152.3L449.5,150.8L453.0,149.3L459.9,148.3L466.6,147.3L467.0,148.7L459.0,151.2L456.6,152.3L454.7,154.4L453.5,156.5L456.9,159.6L454.9,160.5L450.7,160.3ZM496.5,141.9L497.0,139.7L503.1,140.5L515.0,143.5L517.5,144.8L510.9,145.4L504.6,143.9ZM574.5,150.6L576.1,148.9L584.3,150.0L585.4,151.6L579.5,151.8ZM584.8,154.6L588.9,153.5L591.0,155.0L587.3,155.2ZM590.3,150.8L595.0,150.4L596.3,151.6L591.6,151.6ZM432.8,141.2L437.8,140.3L443.7,140.6L442.9,141.4L435.9,141.6ZM638.7,198.3L642.9,201.8L646.3,205.6L651.9,210.6L654.9,212.7L653.7,215.7L656.7,218.7L654.6,219.7L651.6,215.7L649.1,211.8L642.9,205.1L641.0,203.1L639.5,200.6ZM443.8,164.0L445.8,162.9L446.7,164.2L444.9,164.7ZM460.6,161.7L461.9,160.7L462.6,162.4ZM667.4,188.1L667.9,186.6L668.9,188.3ZM474.1,155.0L476.0,154.4L476.8,155.4Z"/>
<path d="M438.2,257.5L439.3,253.7L439.6,252.9L440.8,252.5L441.4,253.7L441.0,253.9L440.8,254.7L441.0,257.1L440.9,258.6L440.3,262.2Z"/>
<path d="M466.1,263.3L467.1,261.0L469.1,261.1L469.0,262.6L469.5,262.8L470.4,264.8L468.8,264.8L468.1,263.6Z"/>
<path d="M591.2,282.9L592.8,284.1L593.1,280.8L595.2,282.5L595.9,284.9L599.4,285.4L600.4,287.4L598.6,288.7L601.6,290.5L601.5,291.7L605.2,294.9L605.8,296.4L607.7,297.7L608.4,299.9L608.4,300.9L606.1,301.6L605.0,301.8L605.1,302.9L603.1,301.8L603.9,300.3L603.5,298.3L601.4,296.2L600.9,293.6L597.6,291.3L596.2,292.7L594.7,291.8L592.7,293.6L592.3,292.3L592.2,288.4L590.6,288.4L590.5,286.7L589.4,286.2Z"/>
<path d="M606.6,283.2L604.1,285.0L604.2,286.6L602.9,288.7L602.9,290.2L604.8,292.6L606.5,294.9L609.4,297.3L611.3,299.6L612.6,303.0L613.3,306.4L613.2,308.2L612.6,309.8L610.5,311.4L608.5,312.3L607.8,314.5L604.7,316.9L603.5,316.9L603.4,313.7L604.0,313.2L602.4,312.1L603.8,310.7L605.4,310.6L606.3,310.6L605.3,309.0L606.7,308.8L609.1,307.2L608.6,304.1L608.4,300.9L608.4,299.9L607.7,297.7L605.8,296.4L605.2,294.9L601.5,291.7L601.6,290.5L598.6,288.7L600.4,287.4L599.4,285.4L595.9,284.9L595.2,282.5L593.1,280.8L597.0,280.6L599.8,278.5L602.7,279.5L603.6,281.9Z"/>
</g>
<g fill="#66c2a4" stroke="#38524a" stroke-opacity="0.7" stroke-width="0.5" stroke-linejoin="round">
<path d="M105.9,254.5L111.4,253.9L118.2,257.6L124.4,257.6L124.8,256.3L128.6,256.3L131.2,262.0L133.7,263.6L136.0,261.5L139.0,262.0L139.7,265.4L141.0,267.5L141.3,270.4L145.3,271.6L142.9,276.7L142.2,281.1L142.9,285.3L144.9,289.2L147.5,291.3L151.6,291.3L154.4,290.8L157.2,288.7L158.4,284.5L164.1,282.9L166.7,283.7L164.5,288.4L162.6,291.0L160.3,292.6L156.0,292.8L156.6,297.0L152.4,299.4L152.2,301.5L148.5,297.5L142.7,298.3L137.4,296.0L131.4,292.8L127.2,290.8L123.8,287.1L125.0,283.2L123.1,278.5L119.5,273.3L118.2,269.6L115.7,266.2L113.4,262.3L113.3,257.9L110.3,256.3L109.1,260.5L111.4,265.7L112.5,270.1L114.0,275.4L116.2,279.0L114.6,279.5L111.3,275.1L111.6,270.9L107.8,268.3L109.0,264.6L106.6,260.5Z"/>
<path d="M210.0,292.3L210.2,291.0L213.8,291.3L213.5,292.3Z"/>
<path d="M244.0,328.1L245.3,329.1L247.6,334.6L247.5,337.7L245.2,339.3L246.4,340.9L248.7,338.8L251.2,340.3L251.2,342.4L253.7,340.9L260.7,345.8L267.2,346.9L270.6,346.6L274.1,349.0L277.1,351.8L281.5,352.9L282.8,357.8L282.6,360.4L280.8,364.6L278.0,368.0L274.7,373.2L273.8,378.5L273.9,385.5L272.8,390.5L271.6,392.3L270.3,396.7L268.2,399.3L265.5,399.3L262.2,400.1L258.7,401.9L255.2,405.3L254.2,408.5L254.8,413.7L252.1,417.6L250.1,421.5L248.4,423.3L246.2,427.4L245.9,427.3L246.0,424.7L245.0,423.1L242.6,421.5L240.1,420.0L239.2,419.7L235.4,418.1L237.2,415.3L238.7,413.2L240.3,411.9L242.8,410.2L242.7,407.9L242.2,406.3L240.5,406.1L240.7,402.1L238.3,401.9L237.2,397.8L234.9,397.2L232.2,397.0L231.1,391.9L231.7,388.9L232.2,386.3L230.2,384.5L229.7,381.8L225.6,381.8L225.1,378.5L224.5,375.3L221.5,374.5L218.6,372.3L215.4,371.9L213.9,370.6L212.9,367.5L212.9,364.6L209.9,365.1L205.5,368.3L203.3,367.9L200.9,368.0L200.7,364.1L197.1,365.4L196.8,364.1L195.2,363.3L192.7,358.6L194.4,355.2L195.2,352.6L199.7,350.5L201.7,350.3L202.8,342.2L201.3,338.0L203.5,337.6L201.9,334.9L208.1,334.7L208.7,336.1L209.9,337.3L211.8,337.0L212.5,335.6L214.8,335.4L215.3,333.0L216.7,333.3L214.2,329.1L214.7,328.5L217.7,329.1L218.1,328.6L221.2,328.1L223.0,325.7L224.6,326.2L225.5,328.9L224.8,332.8L226.3,335.6L229.1,335.4L232.6,334.3L234.0,334.1L236.1,332.5L237.0,333.3L240.7,333.6L241.8,332.5L243.8,328.7Z"/>
<path d="M235.3,427.8L235.7,429.6L238.7,431.7L240.3,434.0L239.5,438.5L236.7,440.3L232.6,441.1L229.9,440.5L231.3,445.2L229.7,446.5L225.3,445.7L226.2,448.8L229.5,450.1L227.9,451.2L227.1,454.0L227.8,456.6L224.2,459.1L228.7,462.2L229.0,463.7L226.7,467.5L225.0,470.1L226.0,473.3L228.3,475.0L224.8,474.3L221.1,474.3L220.0,473.5L218.9,471.1L217.3,471.1L215.0,467.5L216.6,465.2L215.5,462.9L216.0,460.9L215.4,458.1L215.1,456.1L213.6,454.0L212.8,450.9L211.3,447.8L211.0,445.5L210.1,442.6L211.2,440.3L210.0,437.4L209.5,434.6L209.9,431.2L210.6,428.6L209.5,425.2L208.1,422.8L207.8,420.5L208.1,418.7L207.5,415.8L207.9,413.7L208.7,411.9L210.4,409.8L209.9,407.9L209.2,405.1L209.2,403.2L211.5,401.9L211.9,399.3L211.4,398.8L213.4,396.2L215.7,397.0L217.9,398.8L218.4,396.7L221.1,396.7L221.5,397.4L225.6,401.4L230.3,403.8L233.7,405.3L232.1,410.3L235.7,410.8L237.9,410.6L240.6,408.7L240.5,406.1L242.2,406.3L242.7,407.9L242.8,410.2L240.3,411.9L238.7,413.2L237.2,415.3L235.4,418.1L235.1,422.8L235.4,425.4ZM228.3,475.9L229.7,477.5L232.9,479.5L236.9,480.9L234.8,481.8L230.6,481.5Z"/>
<path d="M228.3,475.0L226.3,475.5L224.3,477.3L224.3,479.0L219.0,476.8L215.8,474.8L212.7,470.6L210.2,465.5L208.2,460.9L209.9,456.6L210.2,451.4L209.5,448.1L206.8,446.2L206.1,443.4L204.6,436.4L204.9,435.1L205.3,432.0L206.0,425.4L204.2,418.4L204.9,417.3L204.6,410.0L204.4,400.9L203.9,392.0L203.2,387.2L204.8,385.0L206.5,388.9L207.8,392.8L208.8,395.7L209.8,398.3L211.4,398.8L211.9,399.3L211.5,401.9L209.2,403.2L209.2,405.1L209.9,407.9L210.4,409.8L208.7,411.9L207.9,413.7L207.5,415.8L208.1,418.7L207.8,420.5L208.1,422.8L209.5,425.2L210.6,428.6L209.9,431.2L209.5,434.6L210.0,437.4L211.2,440.3L210.1,442.6L211.0,445.5L211.3,447.8L212.8,450.9L213.6,454.0L215.1,456.1L215.4,458.1L216.0,460.9L215.5,462.9L216.6,465.2L215.0,467.5L217.3,471.1L218.9,471.1L220.0,473.5L221.1,474.3L224.8,474.3ZM228.3,475.9L230.6,481.5L233.6,482.5L234.3,484.1L229.6,483.0L224.9,481.3L220.9,478.8L225.0,479.3L225.8,478.0L224.9,476.3L226.5,475.5ZM208.0,452.2L208.1,448.3L209.2,450.1L209.3,452.4Z"/>
<path d="M359.0,226.3L354.9,226.0L350.7,225.5L346.8,225.3L343.6,226.7L343.4,227.4L344.1,229.8L344.1,230.0L345.6,229.5L345.8,230.3L348.9,229.9L349.7,230.8L348.2,232.4L347.9,235.7L346.8,235.8L347.9,237.5L347.2,239.1L347.8,239.6L346.7,241.4L346.9,242.2L347.9,242.2L349.0,243.5L350.7,245.3L353.3,243.5L358.3,243.5L359.4,241.7L361.3,241.2L362.6,238.8L363.2,238.1L362.2,236.2L364.7,232.9L367.4,231.3L369.5,230.0L369.7,229.0L369.5,228.7L366.4,228.5L364.3,227.7L361.3,227.4ZM367.9,236.2L369.4,235.1L370.0,236.0L369.2,236.8Z"/>
<path d="M367.9,206.5L369.5,205.9L371.3,205.9L372.7,205.7L374.4,206.4L374.1,207.3L374.7,207.4L375.6,208.5L375.1,208.9L374.3,209.5L374.4,210.4L372.4,209.3L371.2,209.3L369.2,207.5Z"/>
<path d="M374.4,210.4L374.3,209.5L375.1,208.9L375.8,209.8L375.6,210.7Z"/>
<path d="M369.5,205.9L370.1,204.8L370.9,204.3L372.0,202.1L373.3,201.3L374.9,200.8L376.8,201.1L376.6,202.8L376.0,203.1L376.7,203.7L376.0,204.6L374.5,204.8L375.1,205.8L374.7,207.4L374.1,207.3L374.4,206.4L372.7,205.7L371.3,205.9Z"/>
<path d="M390.7,212.4L389.1,213.8L388.6,214.1L389.2,215.7L387.6,215.4L385.2,215.9L383.6,216.2L382.3,215.5L382.3,216.8L384.2,217.3L385.3,217.4L387.7,216.9L388.2,217.7L390.8,218.2L392.7,218.5L394.8,217.7L395.7,217.3L396.4,215.9L397.5,215.2L397.6,214.4L397.0,212.9L395.1,212.5L393.0,211.8L392.5,212.9Z"/>
<path d="M351.0,199.2L350.7,200.9L351.1,201.9L350.3,203.9L347.8,204.3L346.4,204.8L343.4,205.7L342.5,204.8L342.2,204.1L343.4,202.9L344.4,201.8L342.9,200.8L343.6,199.6L343.4,198.6L346.1,198.6L345.8,197.6L346.8,196.4L348.6,195.9L348.8,196.7L348.2,197.4L347.0,198.2L348.2,199.0L348.6,198.9L349.9,199.2Z"/>
<path d="M383.6,186.9L382.3,184.9L382.1,186.6L380.6,187.2L377.8,189.3L376.0,189.6L373.2,188.1L373.2,187.2L372.0,185.2L372.0,183.3L371.9,182.1L372.0,179.5L373.8,178.8L375.3,177.7L377.9,176.5L380.2,175.9L382.6,173.2L384.1,171.8L385.1,170.0L387.4,167.8L389.1,166.2L384.8,166.2L388.1,164.9L390.5,164.4L392.0,163.1L394.4,162.3L397.6,161.5L400.6,160.5L401.7,160.3L404.9,159.3L408.1,159.4L411.3,160.3L414.1,161.0L412.7,162.3L414.0,162.2L411.3,163.9L410.9,162.4L409.1,161.6L406.0,162.4L405.8,163.5L404.6,164.9L400.5,164.7L398.0,163.9L397.2,163.8L396.5,165.3L393.4,165.1L393.2,166.3L390.8,167.3L389.3,169.6L387.9,170.5L388.3,172.3L386.8,173.9L387.8,174.8L385.3,175.3L384.2,176.9L384.8,179.3L385.1,180.7L386.2,181.5L385.0,182.3L385.9,183.7L384.6,185.0L384.4,185.6L384.7,186.5L384.1,187.3ZM378.6,142.1L378.4,143.5L382.0,145.2L383.7,146.4L383.9,147.3L387.8,148.1L390.4,146.4L393.7,144.8L390.5,143.5L387.2,141.7L382.9,141.9ZM388.6,141.6L394.1,140.8L401.4,141.4L400.5,142.9L391.8,142.9ZM394.2,146.6L398.6,146.2L396.7,145.0L393.8,145.2Z"/>
<path d="M404.7,171.2L407.3,172.8L405.9,173.9L403.7,175.6L401.2,177.4L401.3,180.0L401.8,181.0L401.8,183.3L403.5,183.8L405.1,185.1L408.6,184.3L412.1,183.6L413.7,183.4L416.1,181.6L418.9,178.8L419.3,177.9L416.0,175.9L416.6,174.6L414.9,173.4L415.0,171.4L412.7,168.7L413.8,166.9L411.0,165.8L411.0,164.2L411.3,163.9L410.9,162.4L409.1,161.6L406.0,162.4L405.8,163.5L404.6,164.9L400.5,164.7L398.0,163.9L397.2,163.8L399.1,164.8L401.3,165.4L402.7,166.4L403.1,167.9L403.9,168.9L403.6,170.0Z"/>
<path d="M379.5,197.1L378.3,195.5L378.3,192.7L379.1,191.7L381.4,190.5L382.7,190.1L382.4,191.5L382.4,192.9L383.5,193.5L382.3,194.1L381.6,195.6L381.0,197.3ZM384.0,195.1L385.7,194.1L386.9,195.1L386.3,196.3L385.6,197.7L384.2,197.4L384.3,196.3ZM381.6,195.7L383.5,195.8L383.4,196.7L382.0,196.6Z"/>
<path d="M390.4,199.6L394.2,198.6L395.6,197.6L398.3,197.3L399.0,198.3L400.8,198.2L406.9,198.4L408.4,199.4L409.7,202.6L408.4,203.6L409.4,204.1L409.5,205.6L410.7,207.2L410.7,208.0L408.3,210.3L408.2,211.6L406.2,210.7L403.8,210.8L402.6,211.3L401.9,210.3L400.6,210.6L400.0,209.5L398.8,209.3L398.1,208.5L396.7,208.3L396.2,209.0L395.1,208.3L395.3,207.7L394.2,207.4L392.2,207.2L392.6,206.8L392.0,205.3L391.6,202.9L390.5,202.3L390.9,201.3Z"/>
<path d="M333.5,267.1L334.1,266.3L337.6,264.9L340.2,262.6L341.5,259.9L340.9,259.3L341.3,257.1L342.5,255.0L344.2,252.5L346.2,251.6L347.9,250.4L348.4,249.8L349.4,247.4L349.9,245.9L351.3,245.6L353.2,247.6L354.3,247.3L356.4,247.2L358.0,247.7L358.9,249.5L359.1,251.3L360.0,253.4L360.1,255.5L356.2,256.3L354.9,258.6L353.1,259.4L351.1,261.3L347.1,262.0L343.5,264.4L343.5,267.1Z"/>
<path d="M440.3,262.7L440.1,266.0L441.1,266.1L444.5,271.2L446.3,274.3L448.2,276.4L451.0,280.8L451.2,283.2L454.4,288.1L456.6,291.5L459.0,294.4L460.2,296.5L461.2,295.7L461.3,293.6L463.3,293.9L468.6,294.3L470.9,294.7L472.3,291.8L474.3,290.8L480.8,289.7L487.4,287.1L488.4,281.9L487.2,280.0L481.3,279.4L478.8,276.4L478.7,276.0L477.8,275.1L476.8,274.7L475.3,272.5L474.9,270.7L473.6,268.8L471.5,267.0L470.9,265.7L470.4,264.8L468.8,264.8L468.1,263.6L466.1,263.3L462.0,263.1L457.8,259.7L455.6,258.1L451.6,255.9L448.9,255.4L444.3,257.1L446.7,259.7L445.8,261.0L444.2,261.4L442.9,263.1Z"/>
<path d="M477.8,275.1L478.6,274.0L478.3,271.7L477.4,271.0L476.6,272.7L476.8,274.7Z"/>
<path d="M478.7,276.0L481.0,276.1L483.9,276.4L485.0,275.5L486.8,273.3L488.2,272.0L488.3,271.3L489.0,272.5L489.3,274.2L488.2,276.1L488.7,276.7L487.2,280.0L481.3,279.4L478.8,276.4Z"/>
<path d="M633.7,328.4L633.5,330.4L634.3,333.6L637.0,336.8L634.4,337.2L633.8,339.3L633.7,340.9L632.2,342.7L631.3,345.8L630.0,348.7L626.9,350.3L626.8,348.3L623.1,347.9L620.4,348.4L620.2,347.1L616.5,347.0L616.5,343.7L615.5,341.9L614.4,340.1L614.6,339.4L613.9,337.2L614.0,335.4L615.5,333.9L615.5,335.1L617.6,337.1L620.5,336.8L621.4,335.5L624.7,336.0L627.0,335.4L627.4,334.1L628.0,332.0L628.9,331.5L629.3,328.3L630.0,328.1ZM582.2,324.7L587.3,325.7L588.5,327.6L590.2,329.4L593.0,331.7L594.6,333.8L596.7,334.9L598.6,336.7L601.2,338.0L602.2,339.3L601.4,341.9L603.5,341.9L604.5,345.3L607.2,347.7L606.7,350.8L606.4,354.6L605.2,354.4L603.6,353.7L603.0,352.4L601.1,352.1L598.3,349.2L595.3,345.3L594.1,341.8L591.3,338.5L590.5,334.8L587.7,331.5L586.7,330.7L584.1,328.3ZM604.8,356.9L606.8,354.7L608.6,355.2L612.0,355.6L612.6,356.9L616.7,357.4L618.1,356.0L621.8,357.3L622.1,358.1L625.9,359.7L625.9,362.1L622.5,361.0L617.9,360.8L615.6,359.9L612.4,359.4L607.4,358.5ZM651.4,335.1L646.4,336.8L644.0,336.6L641.5,335.8L639.5,337.5L639.1,339.3L639.0,341.6L637.8,344.3L636.7,346.3L637.6,348.4L638.0,351.0L637.7,353.7L639.9,353.9L640.1,351.6L639.9,349.7L640.2,346.9L641.6,346.2L642.7,349.7L642.8,351.8L644.4,353.1L645.6,351.8L646.6,349.7L644.8,348.2L644.4,344.5L643.5,344.3L647.3,341.8L645.9,341.6L643.1,341.6L639.7,341.6L639.6,340.9L640.2,338.0L642.9,338.1L646.4,338.0L649.9,338.3ZM687.7,346.1L683.2,344.5L680.4,343.1L676.2,345.0L673.8,347.9L671.8,345.6L672.0,341.5L667.9,340.2L665.4,341.5L664.8,343.0L667.0,344.8L668.6,346.1L666.9,346.9L668.5,349.5L669.1,350.0L672.6,349.7L675.8,351.0L679.4,352.4L680.7,354.2L680.2,357.6L681.7,361.2L684.5,360.7L686.6,363.1ZM625.9,360.4L628.7,361.2L627.4,362.3ZM629.1,361.0L630.9,361.2L629.9,362.5ZM631.2,361.5L636.5,361.0L636.2,362.3L631.5,362.8ZM638.3,361.2L645.2,360.7L644.9,362.3L638.5,362.4ZM636.0,364.1L640.1,365.7L638.6,366.2L636.0,364.9ZM646.2,366.2L647.5,363.8L650.0,362.0L648.6,364.4ZM656.7,341.4L657.7,337.2L656.7,334.6L657.8,333.6L659.5,335.4L657.9,338.0L658.8,340.9ZM657.7,347.1L664.2,347.1L663.4,348.7L657.9,348.2ZM653.1,347.7L655.9,347.9L654.7,349.2ZM607.1,343.5L605.5,344.3L607.5,347.1L608.7,346.1ZM610.7,346.1L612.1,346.6L611.4,347.7ZM586.6,335.6L588.5,337.5L587.8,338.0ZM590.1,341.6L591.7,344.0L590.8,343.7ZM671.7,353.9L673.0,355.5L671.7,357.0ZM664.0,358.9L665.6,359.4L664.5,360.7ZM649.3,343.7L651.6,344.0L649.7,344.5ZM663.3,339.6L664.9,340.1L663.9,340.6Z"/>
<path d="M636.6,291.0L640.3,291.3L641.2,294.1L640.1,298.1L640.8,302.0L643.6,302.5L646.3,303.3L646.9,306.5L644.9,305.4L643.2,304.6L641.2,303.0L638.6,303.3L638.3,301.7L638.9,301.2L637.5,300.7L636.2,298.1L637.0,297.4L636.6,293.6ZM650.9,313.7L653.2,317.4L653.9,320.2L653.2,322.9L651.7,321.0L651.2,324.7L648.6,323.1L648.4,320.5L646.5,320.0L643.5,321.3L643.7,318.7L645.2,317.4L647.3,318.2L648.2,317.6L649.4,315.8ZM647.3,306.7L649.6,306.7L651.0,310.3L649.3,309.8ZM647.9,309.5L649.4,310.1L650.2,312.9L649.0,312.7ZM644.6,310.8L646.0,311.1L645.8,315.5L644.0,314.0ZM642.3,308.2L644.9,309.3L644.3,311.9L642.5,311.9ZM646.0,312.7L647.1,310.1L647.1,312.7ZM638.1,304.1L640.4,304.3L641.0,307.2L639.3,306.7ZM632.1,317.4L637.2,309.8L636.6,312.7ZM646.8,313.5L648.5,312.9L648.2,314.2ZM644.8,306.4L646.7,306.9L645.9,308.2Z"/>
<path d="M739.1,429.1L739.8,429.1L741.2,431.4L740.7,433.3L739.6,435.5L741.8,434.6L741.4,436.4L741.3,437.6L743.0,438.2L746.3,437.7L743.3,440.3L742.3,441.6L739.6,442.4L739.8,442.8L737.1,445.0L732.1,447.8L731.6,447.0L733.5,445.5L734.8,443.5L733.2,441.8L734.4,441.2L736.1,440.3L737.5,438.7L738.7,436.6L738.7,436.0L739.1,434.3L738.9,432.0L739.1,430.7ZM728.8,445.0L729.4,445.0L728.5,445.9L728.6,446.9L731.2,446.2L729.7,447.5L729.7,448.2L727.1,449.9L724.6,451.4L722.7,452.8L723.1,453.3L722.0,453.6L718.0,455.0L716.0,456.8L713.8,458.7L711.2,459.9L710.5,460.3L707.2,460.6L706.5,459.6L704.6,459.5L705.2,458.6L710.4,455.5L713.2,454.0L714.3,453.6L717.5,452.2L720.7,450.6L721.7,450.0L723.7,448.2L726.0,446.9L727.2,445.6ZM704.8,461.4L706.2,461.4L705.4,462.2L703.9,462.4Z"/>
</g>
<g fill="#2ca25f" stroke="#38524a" stroke-opacity="0.7" stroke-width="0.5" stroke-linejoin="round">
<path d="M128.1,162.6L134.9,164.0L141.1,162.9L149.0,161.7L155.7,161.7L155.9,163.1L161.8,162.2L169.8,164.2L170.0,165.8L177.8,166.4L181.0,164.9L185.8,165.1L189.5,166.7L197.4,165.3L200.4,165.8L203.6,162.9L210.0,157.7L211.5,159.6L210.3,162.9L211.1,165.1L215.0,164.4L220.8,162.2L226.5,162.4L225.8,165.1L219.4,170.0L214.6,169.6L210.9,172.3L207.4,174.8L201.8,176.5L196.6,178.8L191.0,182.8L186.5,187.6L187.8,192.0L194.1,192.4L199.6,196.1L204.5,196.6L202.4,201.8L203.3,206.0L206.5,205.6L209.5,199.3L215.2,195.6L218.1,192.0L216.7,187.6L220.8,183.5L222.5,179.0L229.6,179.3L235.1,182.3L233.6,187.1L236.6,188.8L241.6,185.9L244.5,183.7L246.0,190.7L247.6,196.1L251.2,199.3L253.2,203.1L249.0,205.6L243.0,208.5L235.0,208.5L229.9,208.8L223.6,212.4L217.8,217.2L221.6,215.2L230.0,211.3L233.1,212.4L230.0,214.4L230.6,216.9L230.5,219.0L233.3,220.0L236.3,220.2L240.4,216.9L240.0,219.5L236.9,221.5L231.3,223.1L226.3,225.9L225.4,223.8L229.8,221.3L226.6,221.5L224.1,221.5L224.1,221.5L223.3,220.2L224.5,216.7L222.0,215.8L219.7,217.7L218.3,219.7L215.0,222.0L208.4,222.0L204.4,224.1L198.0,226.4L197.8,227.6L188.7,230.5L188.3,229.3L190.6,227.2L192.6,221.3L191.2,219.2L189.8,218.2L189.5,217.4L183.9,213.6L181.1,214.4L176.6,213.6L171.9,212.6L171.6,210.8L171.1,211.8L114.8,211.8L114.0,208.8L110.6,206.8L111.5,203.1L111.3,197.6L114.4,194.6L112.6,192.9L113.6,188.6L112.8,185.2L107.0,187.3L107.1,184.4L103.9,184.0L128.1,162.6ZM113.3,213.4L110.3,212.4L107.4,207.5L110.6,208.0L112.7,209.8ZM104.4,204.1L104.5,199.6L107.4,199.1ZM242.3,215.4L248.3,207.5L252.9,205.3L250.9,209.3L255.2,211.1L255.7,215.4L253.1,218.0L248.9,216.9L249.3,214.9ZM231.2,217.4L235.8,218.5L233.4,219.5ZM233.6,209.5L238.4,211.6L235.1,211.1ZM257.3,169.4L251.3,173.4L246.6,177.6L244.8,180.2L240.0,178.3L235.7,176.2L231.6,174.1L225.6,173.9L227.5,172.3L234.2,171.8L236.8,168.5L239.3,165.8L235.9,163.3L233.0,161.3L222.6,162.0L218.1,160.5L217.5,158.4L220.1,155.4L228.5,153.9L234.7,154.2L238.3,155.6L242.5,157.5L246.9,159.2L249.7,161.1L250.8,163.5L254.1,166.7ZM208.4,176.0L211.0,178.8L218.7,176.5L220.3,175.3L217.1,170.9L213.0,171.8ZM169.3,160.7L172.4,163.3L177.8,164.7L186.6,164.2L193.8,162.6L191.8,159.6L195.2,155.6L191.1,155.0L186.4,155.6L180.2,154.8L172.6,156.5L171.0,158.6ZM159.8,157.7L162.1,159.2L166.9,158.6L178.3,155.0L178.4,152.9L172.9,152.3L166.4,153.7ZM197.6,157.9L204.5,158.4L209.4,155.0L205.3,153.5L199.4,155.4ZM208.7,157.3L212.0,157.3L221.0,153.5L213.5,153.1ZM196.0,164.0L201.2,164.9L203.8,162.6L200.2,162.0ZM181.7,150.8L187.5,152.5L198.2,151.2L200.8,149.3L196.0,148.3L186.6,148.5ZM202.3,150.4L210.7,151.2L214.4,148.1L206.4,148.5ZM214.9,150.2L219.4,151.8L237.9,152.0L240.3,150.2L228.4,148.5L222.6,148.9L217.9,147.7ZM226.9,148.5L240.9,148.9L246.6,147.0L247.9,144.8L253.6,143.5L259.7,143.1L270.4,140.0L277.3,137.8L270.0,136.9L256.5,136.8L241.3,138.0L233.5,139.7L237.5,140.9L231.7,143.5L234.4,145.0L228.0,146.8ZM225.3,141.6L229.5,144.8L235.9,143.9L237.5,140.9L233.5,139.7ZM209.9,143.5L214.3,145.8L221.8,144.4L219.3,141.7ZM175.4,148.9L183.4,149.7L189.4,146.6L183.1,146.8ZM234.9,153.9L238.3,155.6L241.6,155.4L238.3,153.5ZM215.2,177.9L219.5,179.5L217.0,180.7Z"/>
<path d="M359.0,226.3L360.1,223.1L360.5,220.5L360.3,219.0L358.3,216.4L355.9,215.2L353.3,214.3L353.1,213.4L355.7,212.4L358.8,212.7L359.6,212.7L359.0,210.1L360.2,210.1L360.6,211.0L363.0,210.6L365.8,209.0L366.0,207.0L367.9,206.5L369.2,207.5L371.2,209.3L372.4,209.3L374.4,210.4L375.6,210.7L377.9,211.6L379.3,211.8L378.2,214.4L378.2,215.4L377.0,215.9L375.3,219.0L376.7,218.5L377.2,219.7L377.2,221.5L376.4,221.8L377.3,223.6L378.4,225.1L376.6,226.7L374.1,226.4L371.1,225.9L369.3,226.9L369.1,228.2L369.5,228.7L366.4,228.5L364.3,227.7L361.3,227.4ZM382.4,227.2L382.9,229.5L382.2,231.3L380.9,230.0L380.8,228.7L382.3,228.0Z"/>
<path d="M376.8,201.1L378.4,200.1L379.4,200.4L379.5,199.6L380.3,199.6L379.8,198.6L379.5,197.1L381.0,197.3L382.1,198.3L384.1,198.3L384.0,199.4L386.3,198.9L388.7,197.7L390.4,199.6L390.9,201.3L390.5,202.3L391.6,202.9L392.0,205.3L392.6,206.8L392.2,207.2L391.2,206.8L388.7,208.2L387.0,208.5L387.8,209.5L387.7,210.1L390.7,212.4L389.1,213.8L388.6,214.1L389.2,215.7L387.6,215.4L385.2,215.9L383.6,216.2L382.3,215.5L380.3,215.2L378.2,215.4L378.2,214.4L379.3,211.8L377.9,211.6L375.6,210.7L375.8,209.8L375.1,208.9L375.6,208.5L374.7,207.4L375.1,205.8L374.5,204.8L376.0,204.6L376.7,203.7L376.0,203.1L376.6,202.8Z"/>
<path d="M378.2,215.4L380.3,215.2L382.3,215.5L382.3,216.8L384.2,217.3L383.5,218.0L383.5,219.0L381.8,218.5L381.3,219.9L380.0,218.7L379.4,219.1L378.9,219.7L377.2,219.7L376.7,218.5L375.3,219.0L377.0,215.9Z"/>
<path d="M378.4,225.1L379.9,224.9L381.3,223.6L383.2,224.5L384.3,225.9L386.1,228.7L387.6,229.5L388.7,230.5L390.2,231.7L392.6,232.7L393.5,233.4L394.7,234.9L396.4,235.2L397.2,237.5L396.4,240.1L397.2,240.3L398.2,239.1L399.4,237.5L398.0,235.7L398.6,233.8L399.3,233.8L401.1,235.1L401.8,235.5L402.1,234.5L400.9,233.3L398.4,232.1L396.5,231.2L396.8,229.9L395.0,230.0L393.7,229.5L392.1,228.0L391.1,225.8L389.0,224.6L388.3,223.1L388.6,222.2L388.2,221.1L389.8,220.4L391.2,220.5L390.8,220.0L390.3,219.0L390.8,218.2L388.2,217.7L387.7,216.9L385.3,217.4L384.2,217.3L383.5,218.0L383.5,219.0L381.8,218.5L381.3,219.9L380.0,218.7L379.4,219.1L378.9,219.7L377.2,219.7L377.2,221.5L376.4,221.8L377.3,223.6ZM389.5,240.7L389.6,240.1L391.4,239.6L396.1,239.4L395.3,241.4L395.8,242.7L395.4,243.7L393.6,242.7L391.8,242.0ZM380.1,232.6L380.3,231.8L382.2,231.7L383.6,233.6L383.3,237.3L382.0,237.3L380.7,237.5L380.6,234.2Z"/>
<path d="M383.6,186.9L383.7,188.6L385.2,190.3L386.5,192.2L386.8,193.9L387.7,195.5L388.4,196.0L390.3,195.5L389.9,194.6L391.0,194.0L392.5,194.0L393.9,192.8L394.0,190.3L393.9,188.1L395.5,187.3L396.3,186.4L397.7,185.2L397.4,184.4L394.3,183.0L394.0,180.0L394.1,179.3L395.9,177.6L398.8,175.8L399.7,173.6L401.5,171.7L404.7,171.2L403.6,170.0L403.9,168.9L403.1,167.9L402.7,166.4L401.3,165.4L399.1,164.8L397.2,163.8L396.5,165.3L393.4,165.1L393.2,166.3L390.8,167.3L389.3,169.6L387.9,170.5L388.3,172.3L386.8,173.9L387.8,174.8L385.3,175.3L384.2,176.9L384.8,179.3L385.1,180.7L386.2,181.5L385.0,182.3L385.9,183.7L384.6,185.0L384.4,185.6L384.7,186.5L384.1,187.3Z"/>
<path d="M436.3,409.4L434.8,413.7L434.1,414.5L431.6,417.2L429.4,420.3L426.8,422.8L423.9,425.4L421.6,427.0L418.8,427.9L417.0,428.6L413.8,428.2L411.1,428.4L408.6,429.1L406.3,430.2L404.8,429.6L403.9,429.0L403.0,429.0L403.0,427.8L401.9,425.4L403.0,423.1L401.7,418.9L400.2,415.6L399.4,414.0L401.5,414.2L405.0,414.9L407.3,413.4L407.7,403.9L409.2,409.4L411.2,409.4L414.4,405.3L418.1,406.6L420.1,406.1L423.4,401.2L426.6,398.3L429.0,397.2L433.4,397.8L434.7,403.2L434.4,407.0L432.4,406.5L431.6,409.3L432.6,410.6L434.5,409.4Z"/>
<path d="M424.2,231.8L429.1,231.6L432.8,229.8L436.6,229.6L439.6,231.6L444.0,232.5L447.3,232.4L450.4,231.1L452.6,230.9L454.6,232.1L455.5,234.7L458.2,235.8L456.7,236.5L457.6,239.1L459.3,242.3L455.3,242.0L454.0,242.5L449.1,243.3L444.7,243.3L441.8,243.3L442.1,244.7L441.2,245.5L440.5,245.5L440.9,243.8L440.4,243.0L439.6,243.8L437.4,243.3L435.7,245.0L433.8,245.3L429.6,243.1L428.8,243.3L428.5,244.7L425.6,243.7L423.6,243.3L421.6,242.7L421.2,240.4L419.1,239.4L420.4,239.0L419.7,236.8L418.4,236.2L418.5,234.9L420.1,233.9L424.3,233.9L424.3,232.5ZM417.9,233.0L418.4,234.7L419.4,233.8L420.9,232.5L423.9,232.4L424.0,231.7L421.6,229.8L419.5,229.5L418.3,230.5Z"/>
<path d="M637.4,238.6L641.6,242.7L643.2,245.2L643.3,247.7L642.5,248.3L640.8,248.7L638.5,249.8L637.7,248.7L637.1,246.4L634.8,243.5L635.5,242.7L633.5,240.8L635.0,239.4ZM638.9,252.4L640.2,251.9L639.8,252.6Z"/>
<path d="M589.0,313.3L589.4,312.0L591.1,308.5L589.9,306.4L589.5,303.5L586.9,299.9L587.5,299.2L587.4,296.8L583.8,290.9L584.8,291.0L584.8,287.6L588.1,286.8L589.4,286.2L590.5,286.7L590.6,288.4L592.2,288.4L592.3,292.3L592.7,293.6L594.7,291.8L596.2,292.7L597.6,291.3L600.9,293.6L601.4,296.2L603.5,298.3L603.9,300.3L603.1,301.8L600.4,301.8L598.1,302.1L597.3,303.8L596.8,303.9L597.9,306.3L598.6,308.9L596.8,307.2L594.0,306.3L593.6,304.3L592.6,304.1L591.5,304.6L591.6,306.4L591.4,308.5L590.4,312.2L590.7,315.0L592.6,317.1L593.3,317.4L594.1,320.5L595.8,321.3L597.7,323.0L597.1,324.2L595.5,324.6L595.4,323.0L593.5,321.8L593.1,322.5L592.1,321.3L591.1,320.0L589.4,318.7L588.8,318.9L588.4,316.9L589.0,314.5Z"/>
<path d="M689.6,367.2L691.3,371.9L691.8,376.6L693.0,376.4L694.2,379.8L694.7,383.4L695.0,386.3L695.7,389.5L698.6,391.5L700.0,394.5L700.9,397.5L702.8,398.0L702.3,400.6L703.0,401.6L704.9,404.0L707.0,403.8L705.8,406.6L704.8,409.0L704.3,412.4L704.2,414.1L701.5,418.4L699.6,421.4L695.3,425.2L693.1,427.7L691.6,429.1L690.5,430.9L687.9,433.3L685.8,436.0L685.2,437.2L680.4,438.2L675.1,441.5L674.0,440.0L673.7,438.2L672.5,439.2L669.4,440.7L667.9,439.5L666.0,439.4L664.3,438.6L663.7,435.7L664.4,433.0L664.0,432.1L662.2,432.2L664.0,430.4L663.7,428.6L661.8,430.9L659.9,431.4L662.8,428.0L665.1,424.1L664.1,425.4L659.0,429.4L658.4,430.0L657.1,429.6L656.9,424.9L656.4,423.2L651.5,421.5L646.4,422.0L639.4,423.6L634.3,425.4L633.5,427.0L628.9,427.7L624.7,427.9L622.9,429.1L619.0,430.8L615.1,430.3L613.7,429.0L614.1,426.9L615.8,426.2L617.2,422.8L617.1,418.4L617.3,414.5L617.1,411.6L615.9,407.6L617.3,407.7L618.1,408.2L617.8,404.3L617.7,401.9L618.9,399.7L620.5,396.2L620.5,398.0L621.5,396.3L622.7,395.8L626.8,393.2L631.3,392.3L634.6,391.4L637.0,390.5L638.7,388.4L640.5,386.2L642.8,382.1L643.9,384.5L645.3,381.8L647.8,379.2L648.7,377.4L653.0,375.2L654.8,376.9L655.3,378.2L657.3,378.2L658.7,378.2L658.4,376.6L660.6,374.3L662.4,371.8L662.8,371.1L666.5,370.9L666.7,369.3L664.9,368.8L666.8,368.4L668.6,370.1L670.2,370.8L674.1,370.6L676.1,371.1L676.4,371.5L674.3,374.0L673.3,376.4L672.2,378.2L674.0,380.5L675.1,380.8L677.4,383.2L679.6,384.7L680.1,385.5L683.0,385.0L685.1,381.1L686.1,378.2L686.6,374.5L687.5,372.3L688.8,367.9ZM668.9,445.6L671.9,446.6L676.0,445.6L675.4,447.5L674.1,449.3L671.7,451.9L668.6,453.0L667.1,452.8L666.9,451.2L667.6,449.3L668.1,447.0ZM661.6,369.3L664.2,369.1L663.6,370.1L661.5,370.1ZM658.7,432.7L661.9,432.9L660.2,433.5L658.4,433.3ZM674.6,375.3L675.7,375.8L674.9,376.6ZM669.2,442.6L669.0,443.7L668.3,443.9ZM677.4,443.1L677.6,444.2L676.6,444.7Z"/>
</g>
<g fill="#006d2c" stroke="#38524a" stroke-opacity="0.7" stroke-width="0.5" stroke-linejoin="round">
<path d="M114.8,211.8L113.8,215.7L110.6,213.4L108.6,218.7L104.9,224.6L102.3,227.7L101.5,230.3L99.0,233.9L98.9,236.8L99.8,240.7L99.7,243.8L100.2,249.0L104.3,250.6L105.9,254.5L111.4,253.9L118.2,257.6L124.4,257.6L124.8,256.3L128.6,256.3L131.2,262.0L133.7,263.6L136.0,261.5L139.0,262.0L139.7,265.4L141.0,267.5L141.3,270.4L145.3,271.6L145.7,267.5L152.0,263.1L155.0,261.8L160.0,262.3L163.1,263.3L164.8,263.6L164.8,260.5L168.2,260.2L173.5,261.0L176.8,261.0L179.0,263.6L178.6,266.7L179.9,270.7L180.9,273.5L182.5,273.5L183.8,270.1L183.6,265.2L182.9,259.7L184.8,255.8L188.7,253.2L192.8,250.6L196.3,248.7L198.8,247.4L199.1,242.7L201.9,238.8L206.0,233.6L210.6,232.4L215.3,230.8L214.6,228.0L216.6,225.6L220.7,223.8L224.2,222.5L224.1,221.5L223.3,220.2L224.5,216.7L222.0,215.8L219.7,217.7L218.3,219.7L215.0,222.0L208.4,222.0L204.4,224.1L198.0,226.4L197.8,227.6L188.7,230.5L188.3,229.3L190.6,227.2L192.6,221.3L191.2,219.2L189.8,218.2L189.5,217.4L183.9,213.6L181.1,214.4L176.6,213.6L171.9,212.6L171.6,210.8L171.1,211.8L114.8,211.8ZM128.1,162.6L103.9,184.0L107.1,184.4L107.0,187.3L112.8,185.2L113.6,188.6L112.6,192.9L114.4,194.6L111.3,197.6L110.0,196.3L108.0,194.4L108.9,190.7L107.3,189.0L106.3,187.1L104.6,185.6L101.3,184.7L97.2,184.2L96.0,182.8L90.2,184.7L86.7,185.4L81.2,186.6L85.8,183.3L89.8,181.9L82.5,184.2L76.6,187.1L76.3,188.3L69.0,190.7L60.8,193.9L53.6,196.1L48.2,197.6L44.5,197.8L52.8,195.1L58.7,193.2L66.0,190.0L70.5,187.6L67.7,187.6L64.9,187.6L60.7,188.1L64.5,184.7L61.3,183.5L61.3,180.9L63.7,179.5L68.2,177.6L76.4,176.5L79.3,174.1L75.8,174.1L71.6,174.1L70.4,171.6L76.1,170.0L82.1,170.7L84.5,169.6L82.6,168.5L84.8,166.2L81.8,165.3L91.1,162.9L97.0,161.1L107.6,159.0L113.5,160.1L118.8,160.9L124.2,161.7ZM70.5,192.0L75.9,190.7L77.6,188.8L72.7,190.3ZM57.1,176.7L61.6,177.2L61.7,175.8ZM54.7,184.7L57.6,184.9L57.9,183.7ZM106.2,196.1L108.7,196.3L109.6,193.7ZM105.9,192.0L106.6,193.7L109.4,191.2L108.5,189.5ZM9.2,287.7L10.0,286.4L11.4,287.4L11.9,288.4L9.8,289.8L9.2,289.4ZM8.5,284.7L9.9,285.3L9.5,284.5ZM5.4,283.2L6.5,283.7L6.2,282.7ZM2.4,281.6L3.3,282.1L3.1,281.2ZM206.1,233.4L210.7,232.1L208.3,233.1Z"/>
<path d="M351.4,209.2L352.4,209.4L355.5,208.8L356.8,207.5L357.9,207.9L360.6,207.5L363.3,207.4L364.7,207.0L365.6,206.4L365.7,205.8L364.2,205.7L364.6,204.9L365.4,204.4L366.2,203.1L365.3,201.9L363.6,201.9L363.2,202.1L363.5,201.3L363.0,200.4L362.6,200.2L362.6,199.1L361.6,198.1L360.3,197.3L359.7,195.6L359.0,194.9L358.0,194.4L356.5,194.4L357.9,193.7L357.5,193.3L358.8,192.0L359.4,190.7L359.0,190.3L356.2,190.3L355.1,190.6L355.5,189.8L357.1,188.4L357.1,187.9L353.5,188.1L352.9,188.9L351.9,190.5L352.0,192.0L351.0,192.7L352.1,193.9L351.8,196.1L353.2,195.1L353.8,195.6L352.9,197.1L353.3,197.7L355.9,197.1L356.8,196.9L355.8,198.2L357.3,199.1L356.9,200.1L356.8,200.8L354.2,200.8L353.7,201.1L353.5,202.3L354.8,202.8L354.7,203.6L352.3,204.6L352.7,205.2L354.5,205.3L356.5,205.7L357.5,205.3L356.7,206.3L354.5,206.3L353.9,206.8L352.7,208.3ZM351.0,199.2L352.3,198.3L352.2,197.6L351.6,197.1L351.1,196.3L348.8,196.7L348.2,197.4L347.0,198.2L348.2,199.0L348.6,198.9L349.9,199.2Z"/>
<path d="M563.9,282.8L562.0,282.9L559.3,283.2L559.1,286.3L555.5,288.7L552.2,293.1L550.2,296.0L547.9,298.1L545.6,299.4L546.5,305.1L545.8,309.3L546.0,312.4L544.9,315.0L542.3,316.3L541.0,318.2L539.5,317.1L537.8,313.3L536.6,309.9L534.0,305.6L531.2,299.0L529.6,294.9L528.0,289.8L527.1,284.2L526.3,281.4L525.7,284.0L523.4,285.1L522.0,284.9L521.0,284.5L518.3,281.2L518.4,280.8L521.2,279.5L517.2,278.7L516.2,277.4L517.4,275.9L522.3,275.6L521.1,272.2L519.4,269.9L517.9,268.8L519.5,266.2L522.9,266.3L524.6,263.6L526.4,261.0L527.3,258.1L526.9,256.8L528.1,255.0L526.5,253.7L524.7,252.6L524.0,250.6L523.8,248.7L527.2,249.0L530.2,247.9L531.5,246.6L533.5,249.0L535.0,249.8L535.3,252.1L537.1,254.2L535.6,254.5L536.2,257.1L538.9,258.6L542.1,260.5L540.6,261.8L540.7,264.1L543.4,265.3L547.0,267.0L548.5,267.9L551.7,268.3L554.5,269.9L557.5,270.4L559.8,270.4L559.1,266.5L560.4,266.1L561.0,268.0L561.1,269.3L563.4,269.6L566.0,269.3L568.4,269.2L567.8,267.5L566.9,266.7L567.7,266.7L569.6,265.4L571.5,263.9L573.6,263.1L576.4,262.8L579.3,265.6L579.4,268.6L577.2,268.2L575.5,269.9L574.9,273.5L575.7,276.7L574.4,277.0L572.5,276.5L573.2,279.3L571.8,281.9L570.4,277.4L569.1,279.4L568.0,278.0L567.8,276.4L570.3,274.3L570.1,273.8L564.2,273.3L563.7,271.4L560.3,270.0L560.1,272.0L562.2,273.5L560.4,275.0L562.2,276.1L562.2,278.7L563.7,281.5Z"/>
<path d="M538.6,211.6L539.5,211.4L540.5,212.9L546.2,215.2L549.0,218.0L550.4,221.5L556.1,222.2L560.7,223.8L564.6,227.8L571.3,228.4L576.2,228.5L584.0,230.8L588.2,228.6L592.4,228.6L595.5,225.3L594.1,221.8L597.9,222.7L601.4,220.8L601.8,218.7L607.9,217.7L603.1,214.5L601.4,215.3L597.3,214.6L596.8,212.4L596.6,209.7L599.3,210.6L601.0,208.8L600.2,205.6L599.6,202.8L598.9,201.1L602.9,200.4L608.4,201.7L617.5,208.7L618.3,209.8L624.9,212.2L628.9,215.2L632.0,215.2L635.3,213.4L636.9,218.0L637.7,221.8L634.7,221.3L633.8,222.5L636.2,225.9L636.6,228.7L634.4,227.3L633.8,229.5L631.9,229.8L629.9,230.4L629.2,232.6L627.1,235.1L623.2,237.4L622.5,237.8L621.0,236.2L621.6,233.3L618.8,232.9L617.1,235.2L614.3,237.5L617.8,240.1L618.7,240.7L618.9,242.2L622.0,240.7L626.7,242.2L626.7,243.1L623.1,245.2L621.9,247.9L622.2,248.7L625.0,249.8L627.9,254.2L631.0,256.6L631.8,258.8L630.1,260.1L632.7,261.3L633.2,265.4L632.0,266.5L630.4,271.4L628.0,275.4L625.5,278.4L622.0,280.0L620.3,281.1L618.8,281.4L615.3,282.9L612.7,284.7L612.5,286.4L610.8,284.7L610.6,283.2L609.2,283.3L606.6,283.2L603.6,281.9L602.7,279.5L599.8,278.5L597.0,280.6L593.1,280.8L592.8,284.1L591.2,282.9L588.9,283.2L586.6,281.6L586.7,279.3L584.7,276.7L582.2,276.9L582.0,274.0L583.7,271.7L582.6,267.5L579.3,265.6L576.4,262.8L573.6,263.1L571.5,263.9L569.6,265.4L567.7,266.7L566.9,266.7L565.3,266.2L563.0,265.4L561.1,267.3L561.0,268.0L560.4,266.1L559.1,266.5L556.2,266.3L553.9,265.7L551.9,264.6L549.4,263.0L548.0,263.1L544.4,260.2L542.1,260.5L538.9,258.6L536.2,257.1L535.6,254.5L537.1,254.2L535.3,252.1L535.0,249.8L533.5,249.0L531.5,246.6L529.3,246.3L527.3,245.3L526.3,243.4L524.0,242.1L524.0,242.1L522.9,239.1L520.9,238.8L519.7,236.4L519.8,235.5L521.8,233.8L525.3,232.4L528.2,231.1L531.2,229.3L530.4,226.7L531.5,226.7L528.8,222.0L533.3,221.5L532.3,220.8L531.9,216.4L537.4,216.4L536.3,213.4ZM613.1,287.0L614.4,288.1L613.4,290.8L611.7,291.8L609.4,290.2L609.6,287.9L611.0,287.1Z"/>
<path d="M648.1,249.8L650.3,246.9L651.9,246.5L655.8,246.1L657.0,245.1L657.4,243.0L657.9,241.4L658.2,243.3L660.6,241.7L661.5,239.6L660.5,235.7L659.3,233.4L659.0,231.8L661.0,231.3L662.7,233.6L665.3,236.2L665.9,239.4L665.5,240.7L666.5,243.0L667.9,246.1L667.0,248.2L666.1,247.2L664.8,247.7L665.0,249.0L663.7,249.0L661.1,249.0L661.1,249.5L660.3,250.8L659.7,252.0L657.6,250.6L657.1,249.0L654.5,249.0L652.7,249.8L651.6,250.8L648.7,250.8ZM648.5,250.8L650.6,251.6L651.6,253.2L652.2,257.3L651.1,258.4L649.7,257.6L648.6,255.0L647.2,254.2L646.3,252.4L647.7,251.5ZM652.0,250.8L654.8,249.6L656.9,251.1L656.4,252.5L654.3,253.8L652.4,252.4ZM658.2,231.3L655.6,228.2L655.9,226.3L657.8,226.7L656.5,223.3L655.1,221.0L657.3,222.0L660.5,223.8L664.3,223.7L664.7,225.4L666.9,226.3L664.7,227.3L664.0,229.9L660.4,228.5L658.7,229.0L657.3,228.5L659.0,230.4ZM648.5,271.2L649.3,269.3L648.6,270.1ZM659.2,240.1L659.6,239.4L660.1,240.7Z"/>
<path d="M593.1,322.5L593.8,325.2L594.8,328.9L596.3,331.5L598.3,333.6L601.4,335.9L603.2,335.6L602.1,332.5L601.0,329.4L601.0,326.8L600.3,325.3L597.7,323.0L597.1,324.2L595.5,324.6L595.4,323.0L593.5,321.8ZM615.5,333.9L617.2,335.1L619.1,335.6L619.0,332.3L623.3,330.9L625.3,327.8L625.6,327.3L628.4,326.2L628.9,324.9L629.9,323.7L631.3,321.0L633.6,322.6L634.6,324.0L637.4,325.7L635.9,327.6L634.4,328.2L633.7,328.4L630.0,328.1L629.3,328.3L628.9,331.5L628.0,332.0L627.4,334.1L627.0,335.4L624.7,336.0L621.4,335.5L620.5,336.8L617.6,337.1L615.5,335.1Z"/>
</g>
<g fill="#fff" stroke="#c9c9c9" stroke-width="0.5" stroke-linejoin="round">
<path d="M426.5,414.0L428.1,415.9L427.2,417.6L424.9,419.3L423.4,418.4L422.6,416.6L424.4,414.7Z"/>
<path d="M434.4,407.0L434.5,409.4L432.6,410.6L431.6,409.3L432.4,406.5Z"/>
</g>
<g fill="none" stroke="#c4c4c4" stroke-width="0.5">
<path d="M324.3,284.5L333.4,283.6L333.5,279.3L335.8,278.1L335.9,271.4L343.4,271.4L343.5,267.1"/>
<path d="M343.5,268.0L352.0,274.0"/>
<path d="M352.0,274.0L348.1,274.0L349.3,285.5L350.3,298.8L341.6,298.8L338.4,299.1L335.9,300.4L334.9,300.8"/>
<path d="M352.0,274.0L365.4,284.2L365.5,285.3L370.1,287.6L370.3,289.7L372.4,289.3"/>
<path d="M372.4,289.3L375.9,288.5L379.8,284.9L389.8,278.0"/>
<path d="M389.8,278.0L385.3,275.4L383.8,270.9L384.9,268.8L384.6,265.4L383.9,260.4"/>
<path d="M383.9,260.4L382.6,255.5L381.0,254.5L379.2,250.8L380.6,248.7L380.8,245.9L381.3,242.9"/>
<path d="M383.9,260.4L385.5,256.6L388.1,254.5L388.1,252.8"/>
<path d="M389.8,278.0L394.8,280.3L396.6,279.3"/>
<path d="M396.6,279.3L417.2,288.4L417.2,287.1L419.4,287.1L419.2,281.9"/>
<path d="M396.6,279.3L398.1,287.1L398.1,295.2L393.9,303.5"/>
<path d="M417.2,288.4L417.5,298.3L415.0,298.6L413.1,305.4L415.2,310.6"/>
<path d="M415.2,310.6L412.6,311.6L406.4,315.8L401.9,319.2L398.4,319.7"/>
<path d="M398.4,319.7L395.0,315.8L397.2,313.2L397.2,309.3L395.1,305.1"/>
<path d="M372.4,289.3L372.4,297.5L370.8,299.1L365.1,300.1L363.4,300.3"/>
<path d="M363.4,300.3L358.2,302.2L353.7,304.8L350.8,308.5L350.2,312.0"/>
<path d="M363.4,300.3L365.0,304.3L367.7,306.2L368.3,308.2L371.0,308.8"/>
<path d="M368.3,308.2L364.9,310.6L362.5,310.3L356.4,310.6L356.4,314.0L356.5,314.2L352.5,314.0L350.2,312.0"/>
<path d="M366.6,323.1L366.5,315.8L364.9,310.6"/>
<path d="M365.6,323.4L363.9,319.7L363.7,314.5L362.5,310.3"/>
<path d="M355.7,326.0L356.4,321.0L356.5,314.2"/>
<path d="M350.2,312.0L348.6,311.6L344.7,312.7L344.4,312.8L345.1,317.4L343.4,319.5L345.5,324.2L345.4,327.9"/>
<path d="M344.4,312.8L343.8,310.6L342.2,306.9L336.8,306.9"/>
<path d="M343.4,319.5L341.2,320.0L341.0,317.4L339.2,317.2L336.4,321.3"/>
<path d="M339.2,317.2L338.5,315.5L337.1,313.2L334.1,313.6L332.3,315.7"/>
<path d="M331.4,306.3L331.4,308.8L329.1,309.3L328.4,310.7"/>
<path d="M450.5,292.3L447.0,294.9L446.1,299.6L446.1,302.0"/>
<path d="M446.1,302.0L449.3,300.4L451.9,301.2L456.0,302.5L459.9,306.7L461.6,306.2"/>
<path d="M459.9,306.7L458.6,310.6L461.3,310.6L461.9,309.4"/>
<path d="M461.3,310.6L461.5,314.2L463.9,315.8L470.8,318.4L473.1,318.4L466.4,326.2L461.8,327.3L459.3,329.0"/>
<path d="M446.1,302.0L445.4,306.2L443.2,308.5L442.9,310.8L441.5,311.6L441.1,314.5"/>
<path d="M441.1,314.5L440.7,317.4L438.7,318.7L442.6,321.8L444.1,325.2L445.6,327.3"/>
<path d="M441.1,314.5L438.5,312.7L438.4,307.5L436.1,308.0L434.7,313.7L427.1,315.0L423.6,314.5L419.8,316.3L418.3,316.6L416.7,313.2L415.2,310.6"/>
<path d="M418.3,316.6L421.0,320.2L423.5,322.1L426.0,326.2"/>
<path d="M426.0,326.2L428.2,328.1L430.7,327.8L433.9,330.2"/>
<path d="M426.0,326.2L420.4,326.2L419.0,326.0L415.5,326.8L414.4,328.6L410.2,327.8L407.7,326.0L405.6,328.1L405.7,330.2"/>
<path d="M405.7,330.2L401.0,330.2L400.1,333.5"/>
<path d="M400.1,333.5L396.2,326.5L396.4,323.6L398.4,319.7"/>
<path d="M400.1,333.5L393.5,333.6L389.0,333.6L385.4,333.2"/>
<path d="M389.0,333.6L389.0,336.7L385.4,336.7"/>
<path d="M393.5,333.6L396.2,335.6L394.9,339.3L396.2,340.9L396.0,344.5L391.6,345.3L389.5,346.9L388.4,349.6"/>
<path d="M405.7,330.2L404.5,333.6L403.8,338.5L403.6,340.6L400.1,345.0L399.4,349.6L397.8,350.5L396.0,352.1L393.0,351.3L392.2,350.8L390.9,354.3"/>
<path d="M390.9,354.7L392.7,354.6L401.0,354.7L401.9,358.4L407.4,360.2L408.8,357.6L412.9,358.4L413.1,364.4L413.9,368.5L417.8,367.8"/>
<path d="M417.8,367.8L417.7,373.2L413.1,373.2L412.9,381.6L416.0,385.2"/>
<path d="M389.5,384.3L393.3,383.7L395.1,384.7L404.6,384.7L410.5,386.2L416.0,385.2L418.3,385.0L420.2,385.8"/>
<path d="M420.2,385.8L418.5,386.3L415.7,386.3L410.5,387.1L410.2,396.7L407.9,396.7L407.7,403.9"/>
<path d="M417.8,367.8L418.7,368.8L421.0,368.8L424.4,370.5L427.8,371.9L429.1,374.3L431.0,374.3L431.0,371.1L427.9,370.4L428.4,366.7L428.7,364.9L428.5,363.6L429.4,361.2L433.5,360.7"/>
<path d="M433.5,360.7L430.7,355.0L430.5,350.9L429.6,346.3L431.0,343.0"/>
<path d="M433.0,342.0L433.9,345.3L433.1,345.6L433.8,347.9L431.9,350.5L430.5,350.9"/>
<path d="M429.6,346.3L431.7,345.8L433.1,345.6"/>
<path d="M433.5,360.7L438.3,363.8L440.9,364.1L442.1,369.4"/>
<path d="M442.1,369.4L444.8,369.3L448.7,369.8L451.0,369.1L455.6,366.6"/>
<path d="M438.3,363.8L439.2,367.5L438.3,372.2L437.6,374.8L438.7,375.8"/>
<path d="M438.7,375.8L441.4,376.9L441.8,379.2L441.0,381.1L443.1,383.9L444.4,381.1L444.6,377.4L442.6,374.5L442.1,369.4"/>
<path d="M438.7,375.8L431.8,377.9L432.2,380.1"/>
<path d="M324.6,307.1L328.0,306.3L331.4,306.3"/>
</g>
</g>
<g id="legend">
<text class="l" x="268.5" y="529.5" text-anchor="middle">No data</text>
<line x1="268.5" y1="534" x2="268.5" y2="537.5" stroke="#999" stroke-width="1"/>
<rect x="244.8" y="537.5" width="47.5" height="11" fill="url(#hatch)" stroke="#bbb" stroke-width="0.7"/>
<rect x="312.2" y="537.5" width="58.4" height="11" fill="#edf8fb"/>
<rect x="370.6" y="537.5" width="58.6" height="11" fill="#b2e2e2"/>
<rect x="429.2" y="537.5" width="58.6" height="11" fill="#66c2a4"/>
<rect x="487.8" y="537.5" width="58.6" height="11" fill="#2ca25f"/>
<path d="M546.4,537.5H600.2L605.4,543L600.2,548.5H546.4Z" fill="#006d2c"/>
<path d="M312.2,537.5H600.2L605.4,543L600.2,548.5H312.2Z" fill="none" stroke="#aaa" stroke-width="0.7"/>
<g stroke="#999" stroke-width="0.8">
<line x1="312.2" y1="534" x2="312.2" y2="548.5"/><line x1="370.6" y1="534" x2="370.6" y2="548.5"/><line x1="429.2" y1="534" x2="429.2" y2="548.5"/><line x1="487.8" y1="534" x2="487.8" y2="548.5"/><line x1="546.4" y1="534" x2="546.4" y2="548.5"/>
</g>
<text class="l" x="312.2" y="529.5" text-anchor="middle">0</text>
<text class="l" x="370.6" y="529.5" text-anchor="middle">10</text>
<text class="l" x="429.2" y="529.5" text-anchor="middle">30</text>
<text class="l" x="487.8" y="529.5" text-anchor="middle">100</text>
<text class="l" x="546.4" y="529.5" text-anchor="middle">300</text>
</g>
<text class="f" x="16.5" y="581.3" textLength="122.5" lengthAdjust="spacingAndGlyphs"><tspan font-weight="700">Data source:</tspan> Refinitiv</text>
<text class="f" x="831" y="581.3" text-anchor="end" textLength="301" lengthAdjust="spacingAndGlyphs">OurWorldinData.org/trade-and-globalization | CC BY</text>
</svg>
</body></html>
